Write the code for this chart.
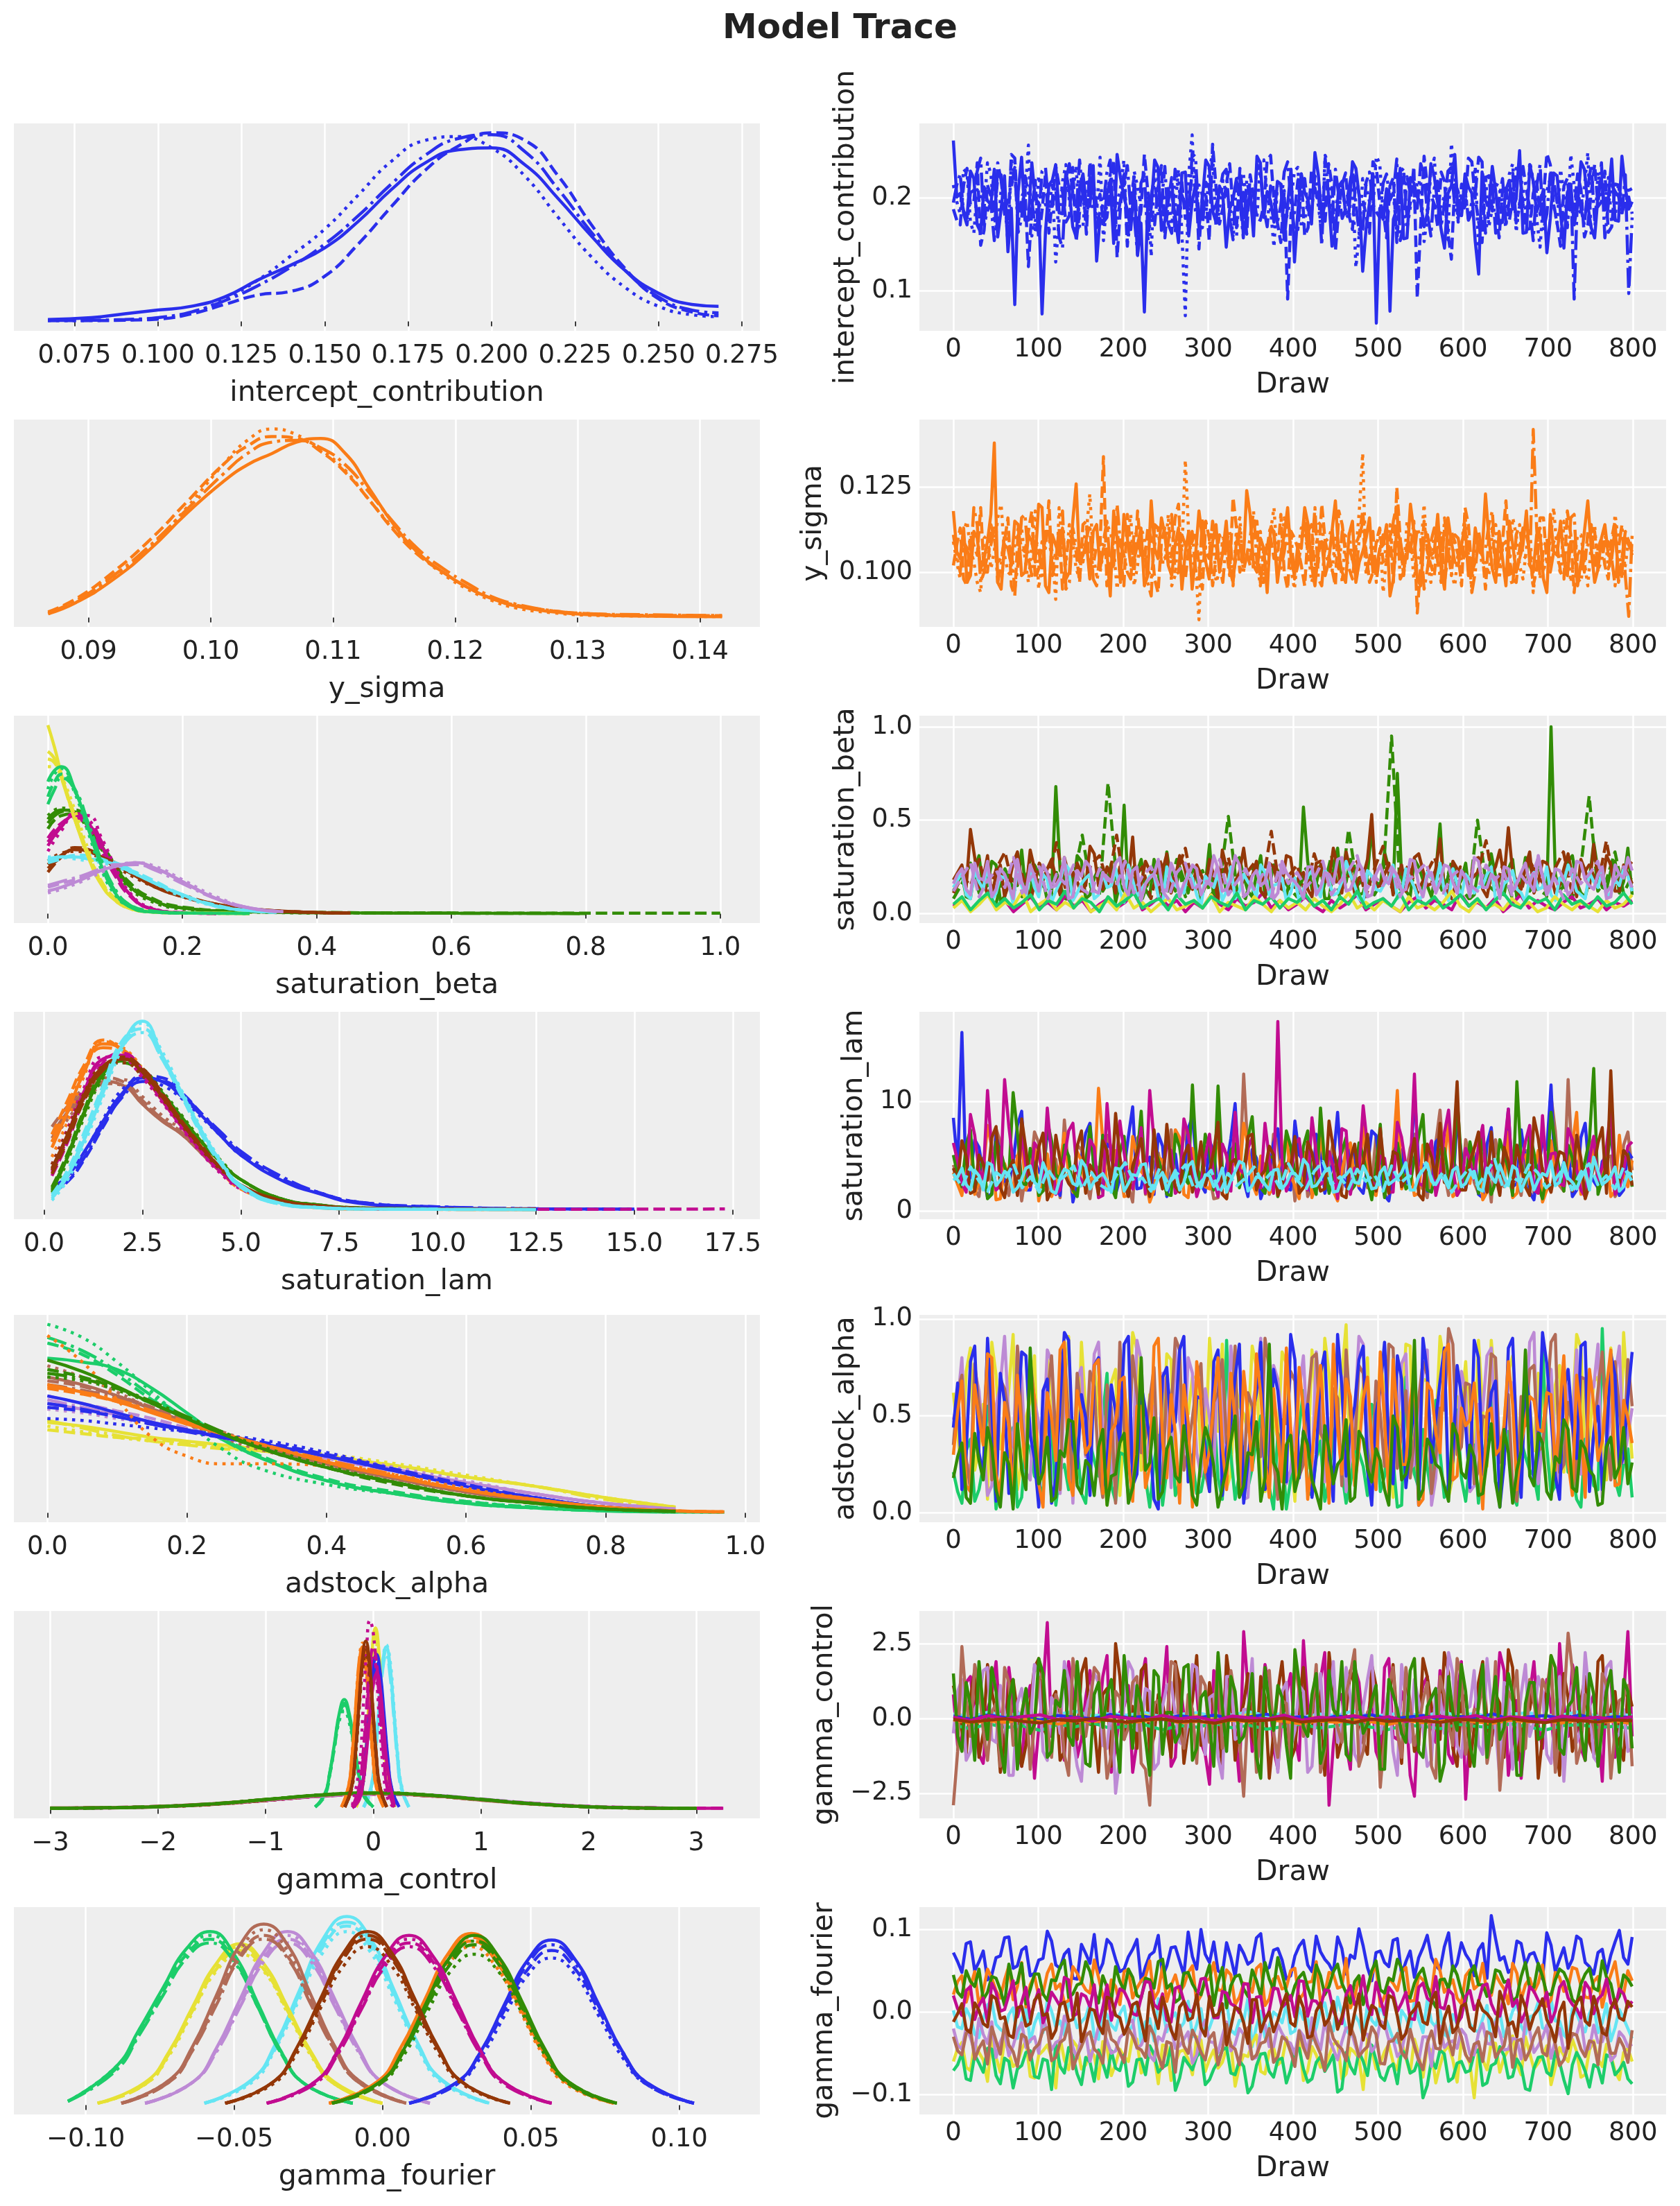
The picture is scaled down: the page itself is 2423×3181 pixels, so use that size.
<!DOCTYPE html>
<html>
<head>
<meta charset="utf-8">
<title>Model Trace</title>
<script src="https://cdn.jsdelivr.net/npm/echarts@6/dist/echarts.min.js"></script>
<style>
html,body{margin:0;padding:0;background:#fff}
#chart{width:2423px;height:3181px}
</style>
</head>
<body>
<div id="chart"></div>
<script>
/* Model Trace — ArviZ-style trace plot: KDE per chain (left) and draws per chain (right) */

/* ---------- tick labels ---------- */
const DRAW_TICKS = [0,100,200,300,400,500,600,700,800];
const IC_TICKS = [0.075,0.1,0.125,0.15,0.175,0.2,0.225,0.25,0.275];
const YS_TICKS = [0.09,0.1,0.11,0.12,0.13,0.14];
const SB_TICKS = [0,0.2,0.4,0.6,0.8,1.0];
const SL_TICKS = [0,2.5,5,7.5,10,12.5,15,17.5];
const AA_TICKS = [0,0.2,0.4,0.6,0.8,1.0];
const GC_TICKS = [-3,-2,-1,0,1,2,3];
const GF_TICKS = [-0.1,-0.05,0,0.05,0.1];
const IC_YT = [0.1,0.2], YS_YT = [0.1,0.125], SB_YT = [0,0.5,1], SL_YT = [0,10];
const AA_YT = [0,0.5,1], GC_YT = [-2.5,0,2.5], GF_YT = [-0.1,0,0.1];

/* ---------- KDE curves (density relative to the panel's highest peak), one grid per variable ---------- */
const IC_KX = [[0.067,0.08,0.09,0.1,0.11,0.12,0.13,0.14,0.15,0.16,0.17,0.18,0.19,0.2,0.21,0.22,0.23,0.24,0.25,0.26,0.268]];
const IC_KY = [[
  [0.01,0.02,0.04,0.06,0.08,0.13,0.22,0.30,0.39,0.53,0.70,0.84,0.91,0.92,0.83,0.65,0.45,0.27,0.15,0.09,0.08],
  [0.004,0.004,0.006,0.012,0.04,0.09,0.14,0.16,0.24,0.41,0.61,0.80,0.93,1.0,0.96,0.77,0.51,0.28,0.12,0.05,0.03],
  [0.004,0.005,0.008,0.015,0.045,0.12,0.22,0.35,0.49,0.67,0.85,0.96,0.98,0.92,0.77,0.55,0.34,0.18,0.08,0.035,0.025],
  [0.005,0.006,0.01,0.02,0.05,0.11,0.19,0.29,0.41,0.56,0.73,0.88,0.97,0.99,0.90,0.70,0.47,0.27,0.13,0.06,0.045]
]];

const YS_KX = [[0.0867,0.089,0.092,0.095,0.098,0.101,0.103,0.105,0.107,0.109,0.111,0.113,0.115,0.117,0.119,0.121,0.123,0.125,0.128,0.131,0.135,0.1418]];
const YS_KY = [[
  [0.02,0.08,0.20,0.36,0.55,0.72,0.81,0.87,0.93,0.95,0.87,0.68,0.49,0.34,0.24,0.16,0.10,0.06,0.03,0.015,0.008,0.004],
  [0.03,0.10,0.24,0.41,0.61,0.81,0.91,0.96,0.95,0.88,0.77,0.62,0.46,0.33,0.24,0.16,0.10,0.065,0.035,0.02,0.012,0.01],
  [0.02,0.09,0.21,0.37,0.58,0.81,0.94,1.0,0.97,0.89,0.78,0.62,0.47,0.34,0.23,0.15,0.09,0.05,0.025,0.012,0.008,0.005],
  [0.025,0.09,0.22,0.38,0.57,0.76,0.87,0.93,0.94,0.90,0.81,0.66,0.50,0.36,0.26,0.18,0.11,0.07,0.035,0.02,0.015,0.01]
]];

// green, magenta, brown, cyan, yellow, light green, lavender
const SB_KX = [
  [0,0.02,0.04,0.06,0.08,0.10,0.12,0.15,0.2,0.3,0.45,0.6,0.8,1.0],
  [0,0.02,0.04,0.06,0.08,0.10,0.12,0.15,0.2,0.25],
  [0,0.02,0.04,0.06,0.08,0.10,0.13,0.16,0.2,0.25,0.3,0.38,0.45],
  [0,0.02,0.04,0.06,0.08,0.10,0.13,0.16,0.2,0.25,0.3,0.34],
  [0,0.01,0.02,0.04,0.06,0.08,0.10,0.12,0.15,0.2,0.3],
  [0,0.01,0.02,0.04,0.06,0.08,0.10,0.12,0.15,0.2,0.3],
  [0,0.02,0.05,0.08,0.10,0.13,0.16,0.2,0.25,0.3,0.35]
];
const SB_KY = [
  [[0.50,0.55,0.54,0.46,0.35,0.24,0.15,0.08,0.03,0.01,0.004,0.002,0.001],
   [0.45,0.52,0.53,0.47,0.37,0.26,0.17,0.09,0.035,0.012,0.005,0.003,0.002,0.002],
   [0.52,0.56,0.53,0.45,0.34,0.23,0.14,0.07,0.025,0.008,0.003,0.002],
   [0.48,0.54,0.55,0.48,0.36,0.25,0.16,0.08,0.03,0.01,0.004,0.002,0.001]],
  [[0.36,0.46,0.52,0.48,0.36,0.22,0.11,0.03,0.005,0.001],
   [0.40,0.48,0.51,0.45,0.33,0.20,0.10,0.03,0.005,0.001],
   [0.33,0.44,0.52,0.52,0.40,0.25,0.12,0.035,0.006,0.001],
   [0.38,0.47,0.53,0.50,0.38,0.23,0.11,0.03,0.005,0.001]],
  [[0.26,0.31,0.34,0.33,0.30,0.26,0.20,0.14,0.09,0.05,0.025,0.008,0.003],
   [0.22,0.30,0.35,0.34,0.30,0.26,0.21,0.15,0.09,0.05,0.025,0.008,0.003],
   [0.28,0.32,0.33,0.32,0.29,0.25,0.19,0.14,0.09,0.05,0.02,0.007],
   [0.24,0.30,0.34,0.33,0.30,0.27,0.21,0.15,0.10,0.05,0.025,0.008,0.003]],
  [[0.29,0.30,0.30,0.29,0.28,0.26,0.21,0.16,0.10,0.04,0.015,0.008],
   [0.27,0.29,0.31,0.31,0.29,0.26,0.22,0.17,0.10,0.045,0.015,0.008],
   [0.30,0.30,0.29,0.28,0.27,0.25,0.21,0.16,0.09,0.04,0.012],
   [0.28,0.30,0.30,0.29,0.28,0.27,0.22,0.16,0.10,0.04,0.015,0.008]],
  [[1.0,0.88,0.74,0.50,0.30,0.15,0.07,0.03,0.01,0.004,0.001],
   [0.82,0.80,0.72,0.52,0.32,0.17,0.08,0.035,0.012,0.004,0.001],
   [0.78,0.78,0.73,0.55,0.34,0.16,0.07,0.03,0.01,0.003],
   [0.86,0.82,0.72,0.50,0.31,0.16,0.08,0.03,0.01,0.004,0.001]],
  [[0.70,0.76,0.78,0.66,0.45,0.25,0.11,0.04,0.01,0.003,0.001],
   [0.62,0.70,0.74,0.65,0.46,0.27,0.12,0.05,0.015,0.003],
   [0.66,0.74,0.77,0.64,0.43,0.23,0.10,0.04,0.01,0.003,0.001],
   [0.58,0.66,0.72,0.66,0.48,0.28,0.13,0.05,0.015,0.004]],
  [[0.12,0.14,0.18,0.23,0.25,0.27,0.24,0.17,0.08,0.03,0.01],
   [0.14,0.16,0.19,0.23,0.25,0.26,0.24,0.17,0.08,0.03,0.01],
   [0.11,0.13,0.17,0.22,0.25,0.27,0.25,0.18,0.09,0.03,0.01],
   [0.15,0.17,0.20,0.24,0.26,0.26,0.23,0.16,0.08,0.03]]
];

// light brown, blue, orange, green, magenta, brown, cyan
const SL_GRID = [0.2,0.6,1.0,1.5,2.0,2.5,3.0,3.5,4.0,4.5,5.0,6.0,7.0,8.0,10,12.5,15,17.3];
const SL_KX = [SL_GRID,SL_GRID,SL_GRID,SL_GRID,SL_GRID,SL_GRID,SL_GRID];
const SL_KY = [
  [[0.40,0.52,0.62,0.68,0.66,0.56,0.47,0.40,0.30,0.20,0.12,0.04,0.015,0.006,0.003,0.002],
   [0.44,0.55,0.64,0.70,0.68,0.58,0.48,0.40,0.30,0.20,0.12,0.04,0.015,0.006,0.003],
   [0.36,0.48,0.58,0.66,0.69,0.60,0.50,0.42,0.31,0.21,0.12,0.04,0.015,0.006,0.003,0.002],
   [0.38,0.50,0.60,0.67,0.66,0.57,0.48,0.41,0.30,0.20,0.12,0.04,0.015,0.006,0.003,0.002]],
  [[0.12,0.18,0.30,0.47,0.62,0.70,0.68,0.60,0.50,0.39,0.29,0.16,0.085,0.035,0.012,0.004,0.003],
   [0.09,0.15,0.26,0.44,0.61,0.71,0.70,0.62,0.51,0.40,0.30,0.17,0.09,0.04,0.015,0.005],
   [0.11,0.17,0.29,0.48,0.64,0.69,0.66,0.59,0.49,0.39,0.29,0.17,0.09,0.04,0.014,0.005,0.003],
   [0.10,0.16,0.27,0.45,0.60,0.68,0.68,0.61,0.51,0.41,0.31,0.18,0.09,0.04,0.015,0.005]],
  [[0.33,0.52,0.72,0.88,0.85,0.74,0.60,0.46,0.33,0.21,0.12,0.04,0.012,0.005,0.002,0.001],
   [0.40,0.58,0.76,0.90,0.84,0.72,0.58,0.44,0.31,0.20,0.11,0.04,0.01,0.004,0.002],
   [0.28,0.47,0.70,0.89,0.86,0.75,0.61,0.47,0.34,0.22,0.12,0.04,0.012,0.005,0.002],
   [0.36,0.55,0.74,0.86,0.83,0.73,0.60,0.45,0.32,0.21,0.12,0.04,0.012,0.005,0.002,0.001]],
  [[0.10,0.28,0.50,0.72,0.80,0.74,0.62,0.49,0.36,0.25,0.16,0.06,0.025,0.01,0.004,0.002],
   [0.12,0.30,0.52,0.73,0.78,0.72,0.61,0.48,0.36,0.25,0.16,0.06,0.025,0.01,0.004],
   [0.09,0.26,0.48,0.70,0.81,0.75,0.63,0.50,0.37,0.26,0.16,0.06,0.025,0.01,0.004,0.002],
   [0.11,0.29,0.51,0.71,0.79,0.73,0.62,0.49,0.36,0.25,0.16,0.06,0.025,0.01,0.004,0.002]],
  [[0.21,0.40,0.62,0.80,0.82,0.72,0.58,0.44,0.31,0.20,0.12,0.04,0.015,0.006,0.003,0.002],
   [0.18,0.36,0.58,0.78,0.83,0.74,0.60,0.45,0.32,0.21,0.12,0.04,0.015,0.006,0.003,0.002,0.003,0.004],
   [0.24,0.43,0.64,0.81,0.80,0.70,0.57,0.43,0.30,0.19,0.11,0.04,0.015,0.006,0.003,0.002],
   [0.20,0.38,0.60,0.79,0.81,0.73,0.59,0.45,0.31,0.20,0.12,0.04,0.015,0.006,0.004,0.003]],
  [[0.22,0.40,0.60,0.76,0.80,0.73,0.60,0.46,0.33,0.22,0.13,0.05,0.02,0.008,0.003,0.002],
   [0.19,0.37,0.57,0.75,0.81,0.75,0.62,0.47,0.34,0.22,0.13,0.05,0.02,0.008,0.003,0.002],
   [0.24,0.42,0.61,0.76,0.78,0.71,0.59,0.45,0.32,0.21,0.13,0.05,0.02,0.008,0.003],
   [0.21,0.39,0.59,0.74,0.80,0.74,0.61,0.47,0.33,0.22,0.13,0.05,0.02,0.008,0.004,0.002]],
  [[0.06,0.18,0.36,0.62,0.88,1.0,0.82,0.62,0.42,0.25,0.13,0.035,0.012,0.005,0.002,0.001],
   [0.08,0.21,0.40,0.66,0.90,0.96,0.80,0.60,0.40,0.24,0.12,0.03,0.01,0.004,0.002],
   [0.05,0.16,0.34,0.60,0.86,0.99,0.84,0.63,0.43,0.26,0.13,0.035,0.012,0.005,0.002],
   [0.07,0.19,0.38,0.64,0.87,0.94,0.80,0.61,0.41,0.25,0.12,0.03,0.01,0.004,0.002,0.001]]
];

// yellow, light green, lavender, light brown, blue, orange, green
const AA_GRID = [0,0.05,0.1,0.15,0.2,0.25,0.3,0.4,0.5,0.6,0.7,0.8,0.9,0.97];
const AA_KX = [AA_GRID,AA_GRID,AA_GRID,AA_GRID,AA_GRID,AA_GRID,AA_GRID];
const AA_KY = [
  [[0.48,0.46,0.43,0.40,0.38,0.36,0.34,0.30,0.25,0.19,0.14,0.08,0.03],
   [0.44,0.42,0.40,0.39,0.37,0.35,0.33,0.30,0.25,0.19,0.14,0.08,0.03],
   [0.46,0.43,0.40,0.38,0.36,0.35,0.34,0.31,0.26,0.20,0.14,0.08,0.03],
   [0.49,0.45,0.41,0.38,0.36,0.34,0.33,0.29,0.25,0.19,0.14,0.07,0.03]],
  [[0.82,0.80,0.76,0.66,0.53,0.40,0.30,0.17,0.10,0.05,0.025,0.01,0.004,0.003],
   [0.90,0.84,0.73,0.60,0.50,0.40,0.31,0.18,0.11,0.06,0.03,0.012,0.005],
   [1.0,0.93,0.80,0.64,0.48,0.34,0.24,0.15,0.10,0.06,0.03,0.012,0.005,0.003],
   [0.93,0.86,0.75,0.62,0.50,0.39,0.30,0.17,0.10,0.05,0.025,0.01,0.004]],
  [[0.58,0.55,0.52,0.48,0.44,0.40,0.37,0.30,0.23,0.16,0.10,0.05,0.02],
   [0.62,0.58,0.54,0.50,0.45,0.40,0.36,0.29,0.22,0.16,0.10,0.05,0.02],
   [0.55,0.53,0.50,0.47,0.43,0.40,0.37,0.31,0.24,0.17,0.10,0.05,0.02],
   [0.60,0.56,0.52,0.48,0.44,0.40,0.36,0.29,0.22,0.16,0.10,0.05,0.02]],
  [[0.72,0.68,0.62,0.55,0.48,0.42,0.36,0.26,0.18,0.11,0.06,0.025,0.01],
   [0.70,0.67,0.62,0.56,0.49,0.42,0.36,0.26,0.18,0.11,0.06,0.025,0.01],
   [0.78,0.72,0.64,0.55,0.47,0.40,0.34,0.25,0.17,0.11,0.06,0.025,0.01],
   [0.68,0.65,0.61,0.55,0.49,0.43,0.37,0.27,0.19,0.12,0.06,0.025,0.01]],
  [[0.62,0.58,0.53,0.48,0.44,0.40,0.37,0.30,0.22,0.14,0.08,0.03,0.01],
   [0.56,0.54,0.51,0.47,0.44,0.41,0.38,0.31,0.23,0.15,0.08,0.03,0.01],
   [0.50,0.49,0.47,0.45,0.43,0.41,0.39,0.32,0.23,0.15,0.08,0.03,0.01],
   [0.58,0.55,0.51,0.47,0.43,0.40,0.37,0.30,0.22,0.14,0.08,0.03,0.01]],
  [[0.68,0.64,0.59,0.53,0.47,0.42,0.37,0.27,0.19,0.12,0.07,0.03,0.01,0.005],
   [0.66,0.63,0.59,0.54,0.48,0.42,0.37,0.27,0.19,0.12,0.07,0.03,0.01,0.005],
   [0.94,0.80,0.60,0.40,0.30,0.26,0.26,0.25,0.20,0.13,0.07,0.03,0.01],
   [0.67,0.64,0.60,0.54,0.48,0.42,0.37,0.28,0.20,0.12,0.07,0.03,0.01,0.005]],
  [[0.81,0.75,0.67,0.58,0.50,0.42,0.35,0.24,0.16,0.09,0.05,0.02,0.008],
   [0.76,0.72,0.66,0.58,0.50,0.42,0.35,0.24,0.15,0.09,0.05,0.02,0.008],
   [0.72,0.70,0.65,0.58,0.50,0.43,0.36,0.25,0.16,0.09,0.05,0.02,0.008],
   [0.74,0.71,0.66,0.59,0.51,0.43,0.35,0.24,0.16,0.09,0.05,0.02,0.008]]
];

// magenta*, brown*, cyan, yellow, light green, lavender*, light brown*, blue, orange, green*, magenta, brown  (* = wide)
const GC_WIDE = [-3.0,-2.5,-2.0,-1.5,-1.0,-0.5,0,0.5,1.0,1.5,2.0,2.5,3.0,3.25];
const GC_KX = [
  GC_WIDE, GC_WIDE,
  [-0.09,-0.02,0.015,0.05,0.085,0.12,0.155,0.19,0.225,0.26,0.33],
  [-0.16,-0.1,-0.07,-0.04,-0.01,0.02,0.05,0.08,0.11,0.14,0.2],
  [-0.54,-0.45,-0.405,-0.36,-0.315,-0.27,-0.225,-0.18,-0.135,-0.09,0.0],
  GC_WIDE, GC_WIDE,
  [-0.18,-0.11,-0.075,-0.04,-0.005,0.03,0.065,0.1,0.135,0.17,0.24],
  [-0.295,-0.23,-0.1975,-0.165,-0.1325,-0.10,-0.0675,-0.035,-0.0025,0.03,0.095],
  GC_WIDE,
  [-0.195,-0.13,-0.0975,-0.065,-0.0325,0,0.0325,0.065,0.0975,0.13,0.195],
  [-0.265,-0.2,-0.1675,-0.135,-0.1025,-0.07,-0.0375,-0.005,0.0275,0.06,0.125]
];
const GC_KY = [
  [[0.003,0.006,0.012,0.025,0.045,0.068,0.08,0.072,0.05,0.028,0.013,0.006,0.003,0.003],
   [0.004,0.007,0.013,0.026,0.046,0.066,0.078,0.071,0.051,0.03,0.014,0.007,0.004,0.004],
   [0.003,0.006,0.012,0.024,0.044,0.067,0.081,0.073,0.05,0.027,0.012,0.005,0.003],
   [0.004,0.006,0.013,0.026,0.047,0.069,0.079,0.07,0.049,0.028,0.013,0.006,0.003]],
  [[0.002,0.005,0.011,0.024,0.046,0.07,0.082,0.071,0.048,0.026,0.012,0.005,0.002],
   [0.003,0.006,0.012,0.025,0.047,0.069,0.08,0.07,0.048,0.027,0.012,0.005,0.003],
   [0.002,0.005,0.011,0.023,0.045,0.07,0.083,0.072,0.049,0.026,0.011,0.005,0.002],
   [0.003,0.006,0.012,0.025,0.046,0.068,0.08,0.071,0.049,0.027,0.012,0.005,0.003]],
  [[0.01,0.12,0.28,0.52,0.76,0.86,0.76,0.52,0.28,0.12,0.01],
   [0.01,0.11,0.27,0.51,0.74,0.84,0.74,0.51,0.27,0.11,0.01],
   [0.01,0.10,0.26,0.50,0.75,0.87,0.79,0.55,0.30,0.13,0.01],
   [0.01,0.12,0.28,0.51,0.73,0.82,0.71,0.49,0.26,0.11,0.01]],
  [[0.01,0.13,0.31,0.58,0.85,0.96,0.85,0.58,0.31,0.13,0.01],
   [0.01,0.12,0.29,0.55,0.79,0.90,0.79,0.55,0.29,0.12,0.01],
   [0.01,0.13,0.30,0.55,0.78,0.88,0.77,0.52,0.28,0.11,0.01],
   [0.01,0.12,0.30,0.56,0.82,0.93,0.82,0.57,0.30,0.12,0.01]],
  [[0.01,0.08,0.19,0.35,0.51,0.58,0.51,0.35,0.19,0.08,0.01],
   [0.01,0.07,0.18,0.33,0.49,0.55,0.49,0.33,0.18,0.07,0.01],
   [0.01,0.08,0.18,0.33,0.47,0.52,0.46,0.32,0.17,0.07,0.01],
   [0.01,0.08,0.19,0.34,0.50,0.56,0.49,0.34,0.18,0.08,0.01]],
  [[0.002,0.005,0.012,0.026,0.048,0.07,0.08,0.074,0.052,0.028,0.012,0.005,0.002],
   [0.003,0.006,0.013,0.027,0.047,0.068,0.079,0.073,0.053,0.029,0.013,0.006,0.003],
   [0.002,0.005,0.011,0.025,0.047,0.07,0.081,0.074,0.051,0.027,0.012,0.005,0.002],
   [0.003,0.006,0.012,0.026,0.048,0.069,0.08,0.072,0.051,0.028,0.012,0.005,0.002]],
  [[0.005,0.007,0.013,0.027,0.049,0.072,0.082,0.071,0.047,0.025,0.011,0.005,0.002],
   [0.004,0.007,0.013,0.026,0.048,0.071,0.082,0.072,0.048,0.026,0.011,0.004,0.002],
   [0.004,0.006,0.012,0.026,0.049,0.073,0.083,0.07,0.046,0.025,0.011,0.004,0.002],
   [0.005,0.007,0.014,0.028,0.05,0.071,0.08,0.07,0.047,0.025,0.011,0.005,0.002]],
  [[0.01,0.11,0.27,0.50,0.72,0.82,0.72,0.50,0.27,0.11,0.01],
   [0.01,0.10,0.25,0.47,0.69,0.78,0.69,0.47,0.25,0.10,0.01],
   [0.01,0.11,0.26,0.49,0.71,0.80,0.70,0.48,0.26,0.11,0.01],
   [0.01,0.10,0.25,0.46,0.67,0.76,0.67,0.46,0.25,0.10,0.01]],
  [[0.01,0.12,0.28,0.52,0.76,0.86,0.76,0.52,0.28,0.12,0.01],
   [0.01,0.11,0.27,0.50,0.73,0.83,0.73,0.50,0.27,0.11,0.01],
   [0.01,0.11,0.26,0.49,0.71,0.80,0.71,0.49,0.26,0.11,0.01],
   [0.01,0.12,0.29,0.53,0.78,0.88,0.78,0.53,0.29,0.12,0.01]],
  [[0.003,0.006,0.012,0.026,0.05,0.074,0.085,0.074,0.05,0.026,0.011,0.005,0.002],
   [0.003,0.006,0.013,0.027,0.05,0.073,0.084,0.073,0.05,0.027,0.012,0.005,0.002],
   [0.002,0.005,0.012,0.025,0.049,0.074,0.086,0.075,0.05,0.026,0.011,0.004,0.002],
   [0.003,0.006,0.012,0.026,0.05,0.073,0.085,0.074,0.051,0.027,0.011,0.005,0.002]],
  [[0.005,0.05,0.13,0.29,0.50,0.66,0.72,0.63,0.43,0.22,0.02],
   [0.01,0.12,0.28,0.52,0.76,0.86,0.76,0.52,0.28,0.12,0.01],
   [0.02,0.22,0.50,0.82,1.0,0.93,0.68,0.40,0.18,0.06,0.005],
   [0.01,0.10,0.25,0.47,0.70,0.80,0.72,0.50,0.27,0.11,0.01]],
  [[0.01,0.12,0.29,0.54,0.79,0.89,0.79,0.54,0.29,0.12,0.01],
   [0.01,0.12,0.28,0.52,0.76,0.86,0.76,0.52,0.28,0.12,0.01],
   [0.01,0.11,0.27,0.50,0.72,0.82,0.72,0.50,0.27,0.11,0.01],
   [0.01,0.12,0.28,0.53,0.77,0.87,0.77,0.53,0.28,0.12,0.01]]
];

// cyan, yellow, light green, lavender, light brown, blue, orange, green, magenta, brown
const GF_KX = [
  [-0.06,-0.044,-0.036,-0.028,-0.02,-0.012,-0.004,0.004,0.012,0.02,0.036],
  [-0.096,-0.08,-0.072,-0.064,-0.056,-0.048,-0.04,-0.032,-0.024,-0.016,0.0],
  [-0.106,-0.09,-0.082,-0.074,-0.066,-0.058,-0.05,-0.042,-0.034,-0.026,-0.01],
  [-0.08,-0.064,-0.056,-0.048,-0.04,-0.032,-0.024,-0.016,-0.008,0.0,0.016],
  [-0.088,-0.072,-0.064,-0.056,-0.048,-0.04,-0.032,-0.024,-0.016,-0.008,0.008],
  [0.009,0.025,0.033,0.041,0.049,0.057,0.065,0.073,0.081,0.089,0.105],
  [-0.018,-0.002,0.006,0.014,0.022,0.03,0.038,0.046,0.054,0.062,0.078],
  [-0.017,-0.001,0.007,0.015,0.023,0.031,0.039,0.047,0.055,0.063,0.079],
  [-0.039,-0.023,-0.015,-0.007,0.001,0.009,0.017,0.025,0.033,0.041,0.057],
  [-0.053,-0.037,-0.029,-0.021,-0.013,-0.005,0.003,0.011,0.019,0.027,0.043]
];
const GF_KY = [
  [[0.01,0.135,0.325,0.607,0.882,1.0,0.882,0.607,0.325,0.135,0.01],
   [0.01,0.13,0.31,0.58,0.84,0.95,0.84,0.58,0.31,0.13,0.01],
   [0.01,0.12,0.30,0.56,0.81,0.92,0.81,0.56,0.30,0.12,0.01],
   [0.01,0.13,0.32,0.59,0.86,0.97,0.86,0.59,0.32,0.13,0.01]],
  [[0.01,0.12,0.28,0.52,0.75,0.855,0.75,0.52,0.28,0.12,0.01],
   [0.01,0.11,0.27,0.50,0.72,0.82,0.72,0.50,0.27,0.11,0.01],
   [0.01,0.11,0.26,0.49,0.71,0.80,0.71,0.49,0.26,0.11,0.01],
   [0.01,0.11,0.27,0.51,0.74,0.84,0.74,0.51,0.27,0.11,0.01]],
  [[0.02,0.20,0.40,0.62,0.83,0.92,0.80,0.54,0.28,0.11,0.01],
   [0.02,0.19,0.38,0.60,0.80,0.88,0.77,0.52,0.27,0.11,0.01],
   [0.02,0.20,0.39,0.61,0.82,0.90,0.79,0.53,0.28,0.11,0.01],
   [0.02,0.18,0.37,0.58,0.78,0.86,0.76,0.52,0.27,0.11,0.01]],
  [[0.01,0.12,0.30,0.56,0.81,0.92,0.81,0.56,0.30,0.12,0.01],
   [0.01,0.12,0.29,0.53,0.78,0.88,0.78,0.53,0.29,0.12,0.01],
   [0.01,0.12,0.29,0.55,0.79,0.90,0.79,0.55,0.29,0.12,0.01],
   [0.01,0.12,0.28,0.52,0.76,0.86,0.76,0.52,0.28,0.12,0.01]],
  [[0.01,0.13,0.31,0.58,0.85,0.96,0.85,0.58,0.31,0.13,0.01],
   [0.01,0.12,0.29,0.55,0.79,0.90,0.79,0.55,0.29,0.12,0.01],
   [0.01,0.13,0.30,0.56,0.82,0.93,0.82,0.56,0.30,0.13,0.01],
   [0.01,0.12,0.29,0.53,0.78,0.88,0.78,0.53,0.29,0.12,0.01]],
  [[0.01,0.12,0.28,0.53,0.77,0.875,0.77,0.53,0.28,0.12,0.01],
   [0.01,0.11,0.27,0.50,0.72,0.82,0.72,0.50,0.27,0.11,0.01],
   [0.01,0.11,0.25,0.47,0.69,0.78,0.69,0.47,0.25,0.11,0.01],
   [0.01,0.12,0.28,0.52,0.75,0.85,0.75,0.52,0.28,0.12,0.01]],
  [[0.01,0.12,0.30,0.55,0.80,0.91,0.80,0.55,0.30,0.12,0.01],
   [0.01,0.12,0.28,0.53,0.77,0.87,0.77,0.53,0.28,0.12,0.01],
   [0.01,0.11,0.27,0.51,0.74,0.84,0.74,0.51,0.27,0.11,0.01],
   [0.01,0.12,0.29,0.54,0.78,0.89,0.78,0.54,0.29,0.12,0.01]],
  [[0.01,0.12,0.29,0.55,0.79,0.90,0.79,0.55,0.29,0.12,0.01],
   [0.01,0.11,0.28,0.52,0.75,0.85,0.75,0.52,0.28,0.11,0.01],
   [0.01,0.11,0.26,0.49,0.71,0.80,0.71,0.49,0.26,0.11,0.01],
   [0.01,0.12,0.28,0.53,0.77,0.87,0.77,0.53,0.28,0.12,0.01]],
  [[0.01,0.12,0.29,0.55,0.79,0.90,0.79,0.55,0.29,0.12,0.01],
   [0.01,0.12,0.28,0.52,0.76,0.86,0.76,0.52,0.28,0.12,0.01],
   [0.01,0.12,0.29,0.53,0.78,0.88,0.78,0.53,0.29,0.12,0.01],
   [0.01,0.11,0.27,0.51,0.74,0.84,0.74,0.51,0.27,0.11,0.01]],
  [[0.01,0.12,0.30,0.56,0.81,0.92,0.81,0.56,0.30,0.12,0.01],
   [0.01,0.12,0.29,0.53,0.78,0.88,0.78,0.53,0.29,0.12,0.01],
   [0.01,0.11,0.27,0.51,0.74,0.84,0.74,0.51,0.27,0.11,0.01],
   [0.01,0.12,0.29,0.55,0.79,0.90,0.79,0.55,0.29,0.12,0.01]]
];

/* ---------- thinned draws per chain: *_TR at evenly spaced draws, *_MID halfway between them ---------- */
const IC_TR = [[
  [0.262,0.205,0.178,0.221,0.163,0.197,0.231,0.188,0.142,0.085,0.244,0.176,0.199,0.075,0.214,0.236,0.183,0.207,0.158,0.226,
   0.191,0.132,0.172,0.219,0.247,0.201,0.166,0.138,0.077,0.189,0.233,0.175,0.204,0.152,0.228,0.196,0.168,0.241,0.186,0.213,
   0.147,0.199,0.222,0.181,0.159,0.238,0.207,0.174,0.215,0.193,0.131,0.226,0.198,0.249,0.179,0.203,0.164,0.218,0.186,0.232,
   0.121,0.195,0.065,0.177,0.078,0.188,0.156,0.222,0.201,0.169,0.237,0.194,0.146,0.213,0.182,0.226,0.205,0.118,0.197,0.234,
   0.172,0.209,0.188,0.251,0.163,0.218,0.196,0.141,0.227,0.184,0.206,0.171,0.239,0.192,0.157,0.221,0.199,0.176,0.245,0.188],
  [0.188,0.171,0.232,0.196,0.149,0.214,0.183,0.225,0.167,0.243,0.201,0.126,0.219,0.186,0.162,0.235,0.207,0.181,0.153,0.216,
   0.239,0.192,0.174,0.208,0.136,0.228,0.198,0.163,0.247,0.185,0.211,0.157,0.222,0.194,0.178,0.231,0.145,0.206,0.258,0.172,
   0.214,0.189,0.232,0.161,0.203,0.176,0.241,0.197,0.152,0.091,0.184,0.226,0.168,0.209,0.193,0.237,0.143,0.215,0.181,0.224,
   0.199,0.162,0.233,0.187,0.213,0.152,0.228,0.195,0.092,0.245,0.203,0.169,0.218,0.134,0.207,0.191,0.239,0.174,0.222,0.186,
   0.157,0.214,0.198,0.231,0.166,0.205,0.182,0.248,0.193,0.148,0.221,0.187,0.209,0.171,0.236,0.196,0.163,0.215,0.184,0.201],
  [0.214,0.183,0.227,0.162,0.201,0.238,0.176,0.209,0.149,0.223,0.191,0.257,0.172,0.204,0.186,0.131,0.218,0.197,0.235,0.168,
   0.209,0.183,0.154,0.226,0.195,0.241,0.173,0.212,0.188,0.137,0.219,0.202,0.166,0.231,0.073,0.268,0.214,0.179,0.247,0.187,
   0.206,0.158,0.224,0.192,0.175,0.239,0.203,0.147,0.217,0.185,0.229,0.168,0.198,0.211,0.162,0.236,0.189,0.214,0.177,0.125,
   0.221,0.196,0.245,0.183,0.207,0.164,0.232,0.191,0.216,0.153,0.228,0.187,0.203,0.259,0.174,0.211,0.196,0.142,0.225,0.189,
   0.213,0.168,0.237,0.195,0.181,0.219,0.147,0.208,0.192,0.231,0.172,0.214,0.186,0.249,0.164,0.203,0.222,0.178,0.196,0.213],
  [0.195,0.226,0.171,0.208,0.243,0.186,0.154,0.219,0.197,0.233,0.178,0.205,0.164,0.229,0.191,0.212,0.146,0.237,0.183,0.201,
   0.222,0.168,0.194,0.241,0.176,0.215,0.188,0.139,0.226,0.203,0.181,0.234,0.162,0.209,0.193,0.248,0.174,0.217,0.186,0.205,
   0.231,0.155,0.198,0.219,0.182,0.227,0.169,0.207,0.192,0.239,0.165,0.213,0.187,0.224,0.149,0.202,0.231,0.178,0.211,0.194,
   0.166,0.228,0.185,0.216,0.198,0.242,0.171,0.204,0.189,0.225,0.159,0.218,0.196,0.233,0.177,0.209,0.185,0.244,0.162,0.214,
   0.199,0.173,0.227,0.191,0.208,0.154,0.236,0.183,0.219,0.197,0.168,0.091,0.188,0.211,0.176,0.238,0.193,0.207,0.182,0.097]
]];
const IC_MID = [[
  [0.201,0.186,0.229,0.171,0.212,0.193,0.158,0.224,0.189,0.207,0.176,0.238,0.195,0.163,0.219,0.184,0.228,0.169,0.211,0.192,
   0.235,0.178,0.204,0.151,0.222,0.187,0.214,0.173,0.196,0.241,0.165,0.208,0.182,0.227,0.159,0.215,0.198,0.234,0.174,0.203,
   0.188,0.221,0.161,0.209,0.245,0.179,0.197,0.218,0.155,0.231,0.186,0.206,0.172,0.225,0.194,0.148,0.213,0.183,0.239,0.201,
   0.167,0.226,0.189,0.210,0.177,0.232,0.157,0.216,0.195,0.184,0.223,0.166,0.205,0.247,0.181,0.212,0.153,0.228,0.191,0.207,
   0.174,0.219,0.199,0.162,0.236,0.185,0.209,0.178,0.224,0.146,0.214,0.193,0.231,0.168,0.203,0.187,0.242,0.175,0.211,0.196],
  [0.176,0.214,0.193,0.238,0.165,0.202,0.221,0.183,0.247,0.172,0.209,0.188,0.156,0.226,0.197,0.213,0.174,0.233,0.185,0.161,
   0.218,0.204,0.179,0.241,0.191,0.148,0.223,0.186,0.207,0.171,0.235,0.196,0.163,0.217,0.182,0.229,0.205,0.154,0.212,0.189,
   0.237,0.168,0.201,0.225,0.178,0.192,0.246,0.173,0.208,0.184,0.219,0.159,0.231,0.197,0.175,0.214,0.188,0.227,0.166,0.203,
   0.181,0.239,0.195,0.157,0.222,0.206,0.179,0.234,0.171,0.211,0.193,0.228,0.162,0.216,0.185,0.243,0.199,0.152,0.224,0.187,
   0.209,0.176,0.232,0.194,0.167,0.218,0.201,0.236,0.173,0.213,0.182,0.226,0.158,0.205,0.191,0.229,0.169,0.214,0.196,0.183],
  [0.196,0.231,0.174,0.209,0.188,0.226,0.165,0.213,0.242,0.182,0.201,0.159,0.224,0.193,0.217,0.177,0.236,0.205,0.168,0.221,
   0.186,0.244,0.198,0.171,0.211,0.153,0.229,0.191,0.207,0.238,0.175,0.214,0.189,0.162,0.225,0.183,0.203,0.232,0.169,0.219,
   0.194,0.157,0.227,0.208,0.179,0.241,0.187,0.215,0.166,0.199,0.233,0.176,0.211,0.192,0.246,0.172,0.206,0.184,0.222,0.161,
   0.213,0.188,0.237,0.174,0.204,0.228,0.167,0.196,0.218,0.181,0.243,0.191,0.155,0.223,0.202,0.177,0.234,0.193,0.169,0.215,
   0.187,0.226,0.163,0.209,0.239,0.178,0.198,0.221,0.172,0.205,0.247,0.184,0.212,0.159,0.228,0.196,0.173,0.217,0.189,0.206],
  [0.214,0.183,0.206,0.229,0.171,0.195,0.238,0.187,0.212,0.163,0.224,0.199,0.177,0.233,0.191,0.158,0.218,0.205,0.241,0.176,
   0.209,0.186,0.227,0.164,0.198,0.235,0.181,0.216,0.152,0.223,0.194,0.172,0.231,0.203,0.185,0.244,0.168,0.211,0.192,0.226,
   0.178,0.219,0.157,0.201,0.236,0.189,0.213,0.174,0.228,0.196,0.166,0.221,0.184,0.209,0.243,0.175,0.202,0.188,0.232,0.161,
   0.217,0.193,0.179,0.226,0.206,0.154,0.223,0.197,0.237,0.183,0.211,0.169,0.229,0.191,0.215,0.176,0.204,0.239,0.186,0.162,
   0.221,0.198,0.173,0.234,0.189,0.212,0.165,0.227,0.195,0.181,0.219,0.208,0.171,0.236,0.193,0.157,0.214,0.202,0.225,0.179]
]];

const YS_TR = [[
  [0.118,0.104,0.097,0.112,0.101,0.109,0.138,0.095,0.107,0.115,0.099,0.111,0.103,0.119,0.094,0.108,0.113,0.100,0.126,0.105,
   0.098,0.114,0.107,0.093,0.110,0.117,0.102,0.108,0.096,0.121,0.104,0.111,0.099,0.113,0.106,0.095,0.118,0.103,0.109,0.100,
   0.115,0.097,0.108,0.124,0.102,0.110,0.094,0.112,0.105,0.119,0.099,0.107,0.114,0.096,0.109,0.103,0.121,0.100,0.111,0.097,
   0.106,0.116,0.101,0.108,0.093,0.113,0.104,0.120,0.098,0.110,0.105,0.117,0.095,0.109,0.102,0.114,0.099,0.107,0.123,0.101,
   0.112,0.096,0.108,0.104,0.118,0.100,0.111,0.094,0.106,0.115,0.099,0.109,0.103,0.121,0.097,0.110,0.105,0.113,0.100,0.108],
  [0.102,0.113,0.096,0.108,0.119,0.100,0.110,0.104,0.116,0.093,0.107,0.112,0.098,0.109,0.121,0.103,0.095,0.111,0.106,0.114,
   0.099,0.108,0.134,0.101,0.112,0.096,0.107,0.118,0.103,0.110,0.094,0.113,0.105,0.120,0.098,0.109,0.102,0.115,0.096,0.111,
   0.107,0.122,0.100,0.106,0.113,0.097,0.109,0.104,0.117,0.095,0.110,0.102,0.112,0.099,0.120,0.105,0.096,0.114,0.101,0.108,
   0.118,0.097,0.109,0.103,0.111,0.125,0.099,0.106,0.088,0.115,0.102,0.110,0.097,0.112,0.105,0.119,0.100,0.108,0.095,0.113,
   0.104,0.121,0.098,0.107,0.111,0.096,0.116,0.103,0.109,0.100,0.118,0.094,0.107,0.112,0.101,0.110,0.098,0.115,0.104,0.109],
  [0.109,0.098,0.115,0.103,0.094,0.111,0.106,0.120,0.100,0.108,0.113,0.097,0.118,0.104,0.110,0.092,0.107,0.114,0.101,0.109,
   0.123,0.099,0.106,0.112,0.095,0.108,0.117,0.102,0.110,0.098,0.114,0.104,0.096,0.111,0.133,0.103,0.086,0.107,0.113,0.100,
   0.109,0.096,0.116,0.105,0.101,0.112,0.098,0.119,0.104,0.108,0.095,0.113,0.107,0.100,0.115,0.103,0.110,0.097,0.112,0.106,
   0.135,0.101,0.108,0.094,0.114,0.106,0.099,0.111,0.103,0.120,0.097,0.108,0.113,0.100,0.106,0.117,0.095,0.110,0.104,0.112,
   0.098,0.109,0.116,0.102,0.107,0.094,0.113,0.105,0.119,0.099,0.108,0.103,0.111,0.096,0.114,0.106,0.101,0.117,0.098,0.110],
  [0.111,0.100,0.107,0.119,0.097,0.105,0.113,0.102,0.109,0.095,0.116,0.104,0.110,0.099,0.112,0.106,0.118,0.097,0.108,0.103,
   0.114,0.096,0.109,0.101,0.120,0.105,0.098,0.111,0.107,0.093,0.113,0.103,0.117,0.100,0.108,0.112,0.097,0.106,0.115,0.102,
   0.109,0.099,0.113,0.105,0.118,0.096,0.107,0.111,0.101,0.114,0.098,0.108,0.104,0.119,0.096,0.110,0.103,0.112,0.107,0.099,
   0.115,0.104,0.097,0.111,0.106,0.120,0.100,0.108,0.113,0.095,0.109,0.103,0.116,0.099,0.110,0.105,0.094,0.112,0.107,0.118,
   0.101,0.109,0.096,0.114,0.104,0.142,0.098,0.110,0.106,0.113,0.100,0.117,0.097,0.108,0.112,0.103,0.109,0.096,0.114,0.087]
]];
const YS_MID = [[
  [0.106,0.113,0.099,0.110,0.104,0.117,0.097,0.108,0.102,0.114,0.100,0.109,0.120,0.096,0.111,0.105,0.098,0.115,0.103,0.109,
   0.112,0.101,0.106,0.118,0.097,0.110,0.104,0.113,0.099,0.107,0.116,0.102,0.108,0.095,0.112,0.105,0.110,0.098,0.114,0.106,
   0.101,0.109,0.103,0.117,0.100,0.107,0.113,0.097,0.111,0.104,0.108,0.119,0.102,0.106,0.099,0.112,0.105,0.097,0.115,0.103,
   0.110,0.100,0.107,0.114,0.098,0.109,0.104,0.112,0.096,0.111,0.106,0.101,0.116,0.103,0.108,0.099,0.113,0.105,0.110,0.097,
   0.104,0.115,0.100,0.108,0.102,0.111,0.098,0.117,0.105,0.103,0.109,0.096,0.112,0.107,0.101,0.114,0.104,0.099,0.110,0.106],
  [0.108,0.098,0.111,0.105,0.100,0.114,0.103,0.109,0.096,0.112,0.106,0.118,0.101,0.107,0.099,0.113,0.104,0.110,0.097,0.115,
   0.102,0.108,0.096,0.111,0.105,0.117,0.100,0.106,0.113,0.098,0.109,0.103,0.116,0.101,0.107,0.112,0.095,0.110,0.104,0.108,
   0.099,0.113,0.106,0.102,0.115,0.097,0.110,0.104,0.100,0.112,0.107,0.096,0.114,0.103,0.109,0.101,0.118,0.105,0.098,0.111,
   0.106,0.100,0.113,0.104,0.097,0.110,0.108,0.115,0.102,0.106,0.099,0.112,0.105,0.109,0.096,0.114,0.103,0.107,0.111,0.100,
   0.109,0.104,0.097,0.113,0.106,0.101,0.116,0.103,0.108,0.098,0.111,0.105,0.100,0.114,0.107,0.102,0.110,0.097,0.112,0.105],
  [0.103,0.112,0.107,0.097,0.110,0.101,0.116,0.105,0.099,0.113,0.104,0.108,0.095,0.111,0.106,0.119,0.102,0.109,0.098,0.112,
   0.105,0.100,0.114,0.107,0.103,0.110,0.096,0.113,0.101,0.108,0.104,0.117,0.099,0.106,0.111,0.102,0.115,0.108,0.097,0.110,
   0.104,0.113,0.100,0.107,0.109,0.098,0.112,0.103,0.116,0.101,0.106,0.110,0.097,0.114,0.105,0.100,0.108,0.111,0.103,0.118,
   0.099,0.107,0.112,0.104,0.101,0.109,0.115,0.098,0.106,0.103,0.113,0.100,0.110,0.096,0.108,0.105,0.112,0.102,0.099,0.114,
   0.107,0.101,0.111,0.098,0.113,0.104,0.100,0.109,0.106,0.115,0.097,0.111,0.103,0.108,0.100,0.112,0.105,0.109,0.102,0.107],
  [0.105,0.109,0.102,0.114,0.100,0.108,0.097,0.111,0.106,0.103,0.117,0.099,0.107,0.112,0.101,0.109,0.095,0.113,0.104,0.110,
   0.098,0.106,0.115,0.102,0.108,0.100,0.112,0.105,0.097,0.114,0.103,0.109,0.099,0.111,0.106,0.101,0.116,0.104,0.108,0.097,
   0.112,0.105,0.100,0.110,0.103,0.107,0.114,0.099,0.106,0.111,0.102,0.117,0.104,0.098,0.109,0.113,0.101,0.107,0.104,0.110,
   0.100,0.112,0.106,0.103,0.115,0.098,0.108,0.104,0.110,0.101,0.113,0.097,0.107,0.111,0.103,0.109,0.100,0.106,0.114,0.102,
   0.108,0.099,0.111,0.105,0.102,0.113,0.107,0.100,0.110,0.104,0.116,0.098,0.106,0.112,0.101,0.109,0.104,0.107,0.099,0.111]
]];

const SB_TR = [
  [[0.12,0.21,0.08,0.31,0.15,0.26,0.09,0.18,0.34,0.11,0.22,0.07,0.68,0.19,0.13,0.28,0.10,0.24,0.16,0.06,
    0.58,0.14,0.29,0.09,0.21,0.33,0.12,0.18,0.25,0.08,0.37,0.16,0.11,0.27,0.20,0.09,0.31,0.14,0.23,0.10,
    0.19,0.57,0.13,0.26,0.08,0.35,0.17,0.22,0.11,0.46,0.15,0.24,0.75,0.12,0.29,0.18,0.09,0.48,0.21,0.14,
    0.27,0.10,0.19,0.32,0.13,0.24,0.08,0.30,0.16,0.21,1.0,0.12,0.28,0.17,0.09,0.38,0.14,0.23,0.11,0.35],
   [0.08,0.16,0.27,0.11,0.20,0.06,0.24,0.13,0.09,0.30,0.17,0.12,0.22,0.07,0.19,0.42,0.14,0.10,0.70,0.18,
    0.11,0.25,0.08,0.21,0.15,0.12,0.29,0.09,0.18,0.23,0.10,0.16,0.52,0.13,0.08,0.26,0.19,0.11,0.21,0.14,
    0.09,0.24,0.17,0.12,0.31,0.08,0.45,0.15,0.20,0.10,0.18,0.95,0.13,0.25,0.09,0.17,0.22,0.11,0.28,0.14,
    0.08,0.50,0.16,0.12,0.23,0.09,0.19,0.27,0.13,0.10,0.21,0.15,0.08,0.24,0.63,0.12,0.18,0.33,0.11,0.20]],
  [[0.04,0.08,0.02,0.06,0.11,0.03,0.07,0.01,0.05,0.09,0.03,0.06,0.02,0.10,0.04,0.07,0.01,0.05,0.08,0.03,
    0.06,0.12,0.02,0.05,0.09,0.04,0.07,0.01,0.06,0.03,0.10,0.05,0.02,0.08,0.04,0.06,0.11,0.03,0.07,0.02,
    0.05,0.09,0.04,0.01,0.07,0.03,0.06,0.10,0.02,0.05,0.08,0.04,0.01,0.06,0.09,0.03,0.07,0.05,0.02,0.11,
    0.04,0.06,0.03,0.08,0.01,0.05,0.10,0.03,0.07,0.04,0.02,0.06,0.09,0.03,0.05,0.08,0.02,0.06,0.04,0.07]],
  [[0.18,0.26,0.45,0.14,0.31,0.21,0.09,0.27,0.17,0.34,0.12,0.24,0.19,0.30,0.08,0.22,0.36,0.15,0.25,0.11,
    0.28,0.41,0.16,0.23,0.10,0.32,0.19,0.26,0.13,0.21,0.29,0.07,0.24,0.17,0.35,0.20,0.12,0.27,0.16,0.31,
    0.14,0.22,0.09,0.28,0.18,0.25,0.33,0.11,0.20,0.53,0.15,0.27,0.19,0.12,0.30,0.23,0.16,0.40,0.10,0.24,
    0.18,0.29,0.13,0.21,0.34,0.46,0.17,0.25,0.11,0.28,0.20,0.15,0.32,0.09,0.23,0.37,0.16,0.26,0.12,0.21],
   [0.11,0.20,0.15,0.29,0.09,0.24,0.33,0.13,0.21,0.07,0.27,0.18,0.38,0.14,0.22,0.10,0.26,0.31,0.16,0.42,
    0.12,0.19,0.25,0.08,0.29,0.15,0.22,0.35,0.11,0.18,0.24,0.13,0.30,0.09,0.21,0.27,0.16,0.44,0.12,0.20,
    0.26,0.10,0.32,0.17,0.23,0.13,0.20,0.28,0.09,0.24,0.36,0.14,0.19,0.26,0.11,0.21,0.30,0.15,0.08,0.25,
    0.17,0.22,0.39,0.12,0.27,0.16,0.10,0.29,0.20,0.14,0.24,0.33,0.11,0.19,0.26,0.15,0.39,0.13,0.22,0.28]],
  [[0.14,0.22,0.08,0.17,0.26,0.11,0.19,0.05,0.15,0.23,0.09,0.18,0.12,0.27,0.07,0.16,0.21,0.10,0.14,0.24,
    0.06,0.18,0.13,0.20,0.09,0.25,0.15,0.11,0.19,0.04,0.17,0.22,0.12,0.08,0.21,0.14,0.26,0.10,0.16,0.07,
    0.19,0.13,0.23,0.09,0.17,0.11,0.28,0.15,0.06,0.20,0.12,0.18,0.08,0.24,0.14,0.10,0.19,0.27,0.07,0.16,
    0.21,0.11,0.15,0.25,0.09,0.18,0.13,0.06,0.22,0.14,0.10,0.19,0.26,0.12,0.08,0.17,0.23,0.11,0.15,0.20]],
  [[0.03,0.07,0.01,0.05,0.10,0.02,0.06,0.04,0.12,0.01,0.05,0.08,0.02,0.06,0.03,0.09,0.01,0.04,0.07,0.02,
    0.11,0.03,0.06,0.01,0.05,0.08,0.02,0.04,0.07,0.03,0.10,0.01,0.06,0.04,0.02,0.09,0.05,0.01,0.07,0.03,
    0.06,0.02,0.08,0.04,0.01,0.05,0.11,0.03,0.06,0.02,0.07,0.04,0.01,0.09,0.03,0.05,0.02,0.06,0.12,0.04,
    0.01,0.07,0.03,0.05,0.02,0.08,0.04,0.06,0.01,0.03,0.09,0.05,0.02,0.06,0.04,0.01,0.07,0.03,0.05,0.10]],
  [[0.05,0.09,0.02,0.07,0.11,0.04,0.08,0.03,0.06,0.10,0.02,0.07,0.05,0.12,0.03,0.08,0.06,0.01,0.09,0.04,
    0.07,0.11,0.03,0.06,0.08,0.02,0.10,0.05,0.07,0.03,0.09,0.06,0.04,0.11,0.02,0.07,0.05,0.09,0.03,0.08,
    0.06,0.10,0.04,0.07,0.02,0.09,0.05,0.12,0.03,0.06,0.08,0.04,0.11,0.02,0.07,0.05,0.09,0.03,0.06,0.10,
    0.04,0.08,0.02,0.07,0.11,0.05,0.03,0.09,0.06,0.08,0.02,0.10,0.05,0.07,0.03,0.09,0.04,0.06,0.11,0.05]],
  [[0.16,0.24,0.10,0.19,0.28,0.13,0.21,0.08,0.17,0.26,0.12,0.22,0.15,0.30,0.09,0.20,0.25,0.11,0.18,0.27,
    0.14,0.23,0.07,0.19,0.29,0.12,0.21,0.16,0.26,0.10,0.18,0.24,0.13,0.31,0.09,0.20,0.15,0.27,0.11,0.22,
    0.17,0.08,0.25,0.14,0.21,0.29,0.12,0.19,0.23,0.10,0.26,0.16,0.20,0.13,0.28,0.09,0.22,0.17,0.25,0.11,
    0.19,0.30,0.14,0.21,0.08,0.24,0.16,0.27,0.12,0.20,0.15,0.23,0.10,0.28,0.18,0.13,0.25,0.09,0.21,0.30],
   [0.12,0.20,0.27,0.09,0.18,0.23,0.14,0.30,0.11,0.19,0.25,0.08,0.21,0.16,0.26,0.13,0.10,0.24,0.19,0.15,
    0.28,0.11,0.20,0.25,0.14,0.08,0.22,0.27,0.12,0.19,0.15,0.29,0.10,0.17,0.24,0.13,0.21,0.09,0.26,0.16,
    0.22,0.14,0.19,0.28,0.10,0.17,0.23,0.31,0.12,0.20,0.15,0.25,0.09,0.18,0.22,0.27,0.13,0.11,0.20,0.24,
    0.16,0.12,0.26,0.18,0.23,0.10,0.21,0.15,0.29,0.13,0.19,0.08,0.24,0.16,0.21,0.28,0.11,0.18,0.25,0.14]]
];
const SB_MID = [
  [[0.17,0.09,0.24,0.13,0.28,0.07,0.20,0.15,0.11,0.26,0.18,0.10,0.23,0.14,0.31,0.08,0.19,0.12,0.27,0.16,
    0.10,0.22,0.13,0.29,0.09,0.18,0.25,0.11,0.20,0.15,0.07,0.24,0.17,0.30,0.12,0.21,0.09,0.26,0.14,0.19,
    0.11,0.28,0.16,0.08,0.23,0.13,0.29,0.10,0.21,0.17,0.33,0.12,0.19,0.09,0.25,0.15,0.22,0.11,0.27,0.18,
    0.08,0.24,0.14,0.20,0.10,0.29,0.16,0.12,0.26,0.09,0.21,0.15,0.31,0.11,0.18,0.23,0.13,0.28,0.17,0.10]],
  [],
  [[0.22,0.14,0.30,0.19,0.09,0.26,0.16,0.33,0.12,0.24,0.18,0.29,0.10,0.21,0.27,0.15,0.32,0.13,0.20,0.25,
    0.17,0.08,0.28,0.19,0.23,0.11,0.31,0.16,0.26,0.14,0.20,0.34,0.12,0.22,0.18,0.28,0.09,0.25,0.15,0.30,
    0.20,0.13,0.27,0.17,0.35,0.11,0.23,0.19,0.29,0.14,0.21,0.10,0.26,0.18,0.32,0.15,0.24,0.12,0.28,0.20,
    0.16,0.30,0.09,0.25,0.19,0.22,0.13,0.33,0.17,0.27,0.11,0.24,0.20,0.29,0.14,0.18,0.31,0.12,0.26,0.16]],
  [[0.18,0.10,0.23,0.13,0.07,0.20,0.16,0.25,0.09,0.14,0.21,0.06,0.17,0.24,0.11,0.19,0.08,0.22,0.15,0.12,
    0.26,0.09,0.16,0.21,0.05,0.18,0.13,0.23,0.10,0.20,0.14,0.07,0.25,0.12,0.17,0.09,0.22,0.15,0.19,0.11,
    0.06,0.20,0.14,0.24,0.10,0.17,0.21,0.08,0.23,0.13,0.16,0.26,0.11,0.19,0.07,0.22,0.15,0.12,0.24,0.09,
    0.18,0.14,0.21,0.08,0.16,0.23,0.11,0.19,0.13,0.25,0.07,0.17,0.20,0.10,0.22,0.14,0.09,0.18,0.24,0.12]],
  [],
  [],
  [[0.21,0.13,0.27,0.18,0.09,0.24,0.15,0.29,0.11,0.20,0.26,0.14,0.19,0.08,0.23,0.28,0.12,0.22,0.17,0.30,
    0.10,0.25,0.16,0.21,0.13,0.27,0.09,0.20,0.24,0.15,0.31,0.12,0.18,0.26,0.11,0.23,0.17,0.08,0.28,0.19,
    0.14,0.25,0.10,0.22,0.16,0.30,0.13,0.27,0.09,0.21,0.18,0.24,0.12,0.29,0.15,0.20,0.11,0.26,0.17,0.23,
    0.09,0.28,0.14,0.19,0.25,0.12,0.22,0.16,0.31,0.10,0.24,0.18,0.13,0.27,0.15,0.21,0.08,0.26,0.19,0.23]]
];

const SL_TR = [
  [[4.2,2.1,6.8,1.3,3.9,7.5,2.6,5.1,0.9,3.4,6.2,1.8,4.7,8.3,2.2,5.6,1.1,3.8,6.9,2.7,
    4.4,0.8,7.1,3.1,5.3,1.6,4.0,8.0,2.4,6.1,3.3,1.2,5.0,7.4,12.5,2.9,4.8,1.5,6.3,3.6,
    0.9,5.4,2.2,7.8,4.1,1.7,6.0,3.0,8.8,2.5,4.6,1.0,5.8,3.4,7.0,2.0,4.3,9.2,1.4,3.7,
    6.5,2.6,5.2,0.8,4.0,7.7,2.9,5.5,1.6,3.9,10.5,2.3,12.0,4.5,1.2,6.6,3.2,5.0,2.1,7.2]],
  [[8.5,16.3,3.1,5.8,1.2,6.9,2.7,4.4,9.1,1.9,3.6,7.2,2.3,5.5,0.8,4.8,8.0,2.9,6.1,1.5,
    3.8,9.5,2.1,4.9,7.0,1.3,5.2,3.0,8.6,2.4,6.4,1.7,4.1,9.8,2.8,5.6,1.1,3.5,7.5,2.0,
    8.2,4.6,1.4,6.0,3.2,9.0,2.2,5.0,1.6,7.3,3.7,0.9,5.9,2.6,11.0,4.2,1.8,6.7,3.3,8.4,
    2.0,5.3,1.2,7.6,3.9,9.3,2.5,4.7,1.0,6.2,11.5,3.1,5.8,1.9,8.0,2.7,4.5,7.1,1.4,5.4]],
  [[3.5,1.4,5.9,2.6,7.8,1.0,4.3,2.0,6.5,3.1,0.9,5.2,2.4,7.1,1.7,4.6,3.0,11.2,2.2,5.5,
    1.3,6.8,3.6,0.8,4.9,2.7,7.4,1.5,5.7,3.3,2.0,6.2,1.1,4.4,8.0,2.5,5.0,1.6,3.8,7.0,
    2.3,4.8,1.2,6.6,3.4,0.9,5.4,2.8,7.6,1.8,4.1,2.6,11.0,3.2,1.4,6.0,2.1,4.7,8.1,1.7,
    3.9,5.8,1.0,4.5,2.9,7.2,1.6,5.1,3.5,0.8,6.4,2.4,4.2,9.0,1.9,5.6,3.0,1.3,6.9,2.2]],
  [[5.1,2.2,7.4,3.6,1.1,6.3,4.0,10.8,2.5,5.7,1.4,8.2,3.3,6.0,1.9,4.5,7.7,2.8,5.2,1.2,
    6.8,3.9,9.1,2.0,4.7,1.5,7.0,3.1,11.5,2.4,5.5,11.4,1.8,6.1,3.7,8.6,2.1,4.9,1.3,7.3,
    3.5,5.9,2.7,9.4,1.6,4.4,6.7,2.3,5.0,1.0,7.9,3.4,6.2,2.0,4.8,8.8,1.7,5.6,3.0,10.2,
    2.6,4.3,7.1,1.5,6.5,3.8,11.8,2.2,5.3,1.1,9.0,3.6,6.0,2.4,4.6,13.0,2.9,7.4,1.8,5.2]],
  [[6.2,2.5,8.8,3.7,11.0,1.9,12.0,4.4,7.1,2.2,5.6,9.4,1.5,4.9,8.0,2.8,6.5,1.2,9.8,3.6,
    5.3,2.0,7.6,11.0,3.1,6.0,1.6,8.4,4.2,2.6,7.0,1.3,5.1,9.0,3.4,6.7,2.1,4.8,17.3,1.8,
    6.1,3.3,8.5,2.4,5.4,1.1,7.3,3.9,9.6,2.7,5.0,1.7,8.1,4.1,12.5,2.3,6.4,3.2,9.2,1.4,
    5.7,2.9,7.8,4.5,1.6,9.3,3.0,6.3,1.9,8.7,5.2,2.5,7.5,3.8,1.3,6.8,4.0,9.5,2.1,5.9]],
  [[3.9,6.4,1.6,5.1,2.8,7.7,1.2,4.6,8.4,2.3,5.8,1.0,6.9,3.4,2.0,7.3,4.2,1.5,5.5,8.9,
    2.6,4.1,6.6,1.3,3.8,7.9,2.2,5.0,1.7,6.3,3.5,8.1,1.1,4.7,2.7,7.0,3.2,5.9,1.4,4.3,
    6.8,2.1,5.3,1.8,8.2,3.7,1.2,6.1,4.4,2.5,7.5,1.6,5.2,3.0,6.6,1.0,4.9,8.0,2.4,11.8,
    1.9,5.7,3.3,7.2,1.4,4.5,6.0,2.2,8.5,3.6,1.7,5.4,2.8,6.9,1.1,4.0,7.6,12.8,2.6,5.0]],
  [[2.8,3.9,1.9,3.2,4.4,2.3,3.6,1.7,2.9,4.1,2.2,3.4,1.6,3.8,2.5,4.6,2.0,3.1,2.7,3.9,
    1.8,3.3,4.2,2.4,3.0,1.9,3.7,2.6,4.5,2.1,3.2,2.8,1.7,3.6,4.3,2.3,3.0,1.9,3.8,2.5,
    3.4,4.7,2.2,2.9,3.9,1.8,3.3,2.6,4.1,2.0,3.5,2.4,3.0,4.4,1.9,3.7,2.7,3.2,2.1,4.0,
    2.5,3.6,1.8,3.1,4.2,2.3,3.8,2.8,1.9,3.4,4.5,2.6,3.0,2.0,3.7,4.9,2.4,3.2,1.8,3.5],
   [3.4,2.2,4.0,2.7,1.8,3.5,2.9,4.3,2.1,3.1,1.7,3.8,2.6,3.2,4.1,2.0,3.6,2.4,1.9,3.3,
    4.4,2.7,3.0,1.8,3.9,2.5,3.3,4.2,2.0,2.8,3.7,1.6,3.4,2.3,3.0,4.0,2.6,3.5,2.1,4.3,
    2.8,1.9,3.6,4.5,2.4,3.1,2.0,3.8,2.7,3.3,1.8,4.1,2.5,3.2,2.9,4.4,2.2,3.6,1.7,2.9,
    3.9,2.3,3.4,4.7,2.0,3.1,2.6,4.2,3.5,2.1,2.8,3.9,1.9,3.5,4.3,2.4,3.2,2.0,4.0,2.7]]
];
const SL_MID = [
  [[3.1,5.4,1.9,4.6,2.4,6.3,1.4,4.9,3.5,7.2,2.0,5.1,1.2,3.7,6.0,2.8,4.3,1.6,5.8,3.2,
    2.2,6.6,1.5,4.2,3.0,7.4,1.8,5.0,2.6,4.5,1.1,6.1,3.6,2.3,5.3,1.7,4.0,7.0,2.5,5.6,
    3.3,1.3,4.8,2.7,6.4,1.9,5.2,3.8,2.1,6.8,1.5,4.4,3.0,5.7,2.4,1.2,6.2,3.5,4.7,2.0,
    5.0,1.6,3.9,6.5,2.2,4.6,1.4,5.4,3.1,2.6,7.3,1.8,4.1,3.4,5.9,2.3,4.9,1.3,6.0,3.7]],
  [[4.0,2.2,6.5,3.4,1.6,5.3,2.8,7.8,1.9,4.7,3.1,6.0,1.4,5.0,2.5,7.1,3.6,1.8,5.7,2.9,
    6.8,2.0,4.3,1.5,5.9,3.3,2.2,7.5,4.1,1.7,5.4,2.6,6.6,3.0,1.3,4.8,2.3,6.2,3.8,1.9,
    5.1,2.7,7.0,1.6,4.5,3.2,5.8,2.1,4.0,6.9,1.4,3.5,5.5,2.4,4.2,1.8,6.3,3.0,2.0,5.2,
    3.7,1.5,6.1,2.8,4.6,2.2,7.4,1.7,3.9,5.6,2.5,4.4,1.3,6.7,3.3,2.1,5.0,3.6,1.9,4.8]],
  [[2.4,4.7,1.5,3.6,5.8,1.1,3.0,4.9,1.9,6.1,2.7,1.3,4.2,3.3,5.4,1.7,2.9,6.4,2.1,4.0,
    1.4,5.0,3.1,1.9,4.6,2.5,6.7,1.2,3.8,2.2,5.3,1.6,4.1,2.8,6.0,1.5,3.5,2.0,4.8,3.2,
    1.1,5.6,2.6,4.3,1.8,3.7,6.2,2.3,4.4,1.4,3.0,5.1,2.0,3.9,1.6,5.7,2.8,4.5,1.3,3.4,
    2.5,6.3,1.7,4.0,3.1,1.2,4.9,2.4,5.5,1.9,3.6,2.2,6.0,1.5,4.2,2.9,5.2,1.8,3.3,4.6]],
  [[3.3,6.0,2.0,4.8,1.5,5.6,3.1,7.2,2.4,4.1,1.8,6.4,2.9,5.0,1.3,4.4,3.6,6.9,2.2,5.3,
    1.7,4.7,2.6,6.1,3.4,1.4,5.8,2.5,4.3,7.0,1.9,3.8,5.5,2.1,6.6,3.0,1.6,4.9,2.7,5.9,
    2.3,7.3,1.5,4.2,3.3,5.4,1.8,6.2,2.8,3.9,1.2,5.1,4.0,2.4,6.8,1.9,3.5,5.7,2.1,4.6,
    6.3,1.6,3.7,2.6,5.2,1.4,4.5,7.1,2.3,3.2,5.9,1.8,4.8,2.9,6.5,1.5,4.1,3.4,5.5,2.2]],
  [[4.5,1.7,6.9,3.0,5.4,2.3,7.7,1.5,4.1,6.2,2.6,5.0,1.9,7.3,3.5,2.1,5.8,1.4,4.7,8.2,
    2.8,4.3,1.6,6.4,3.2,5.5,2.0,7.0,1.3,4.9,2.9,6.1,1.8,3.8,5.7,2.4,8.0,1.6,4.4,3.1,
    6.6,1.9,5.2,2.7,4.0,7.5,1.5,3.6,5.9,2.2,4.8,1.7,6.7,3.3,2.5,5.1,1.4,7.1,3.9,2.1,
    4.6,6.0,1.8,3.4,5.6,2.6,4.2,7.8,1.6,3.0,5.3,2.3,6.5,1.9,4.7,2.8,5.8,1.5,3.7,6.3]],
  [[2.7,5.0,1.8,4.3,6.7,2.1,3.8,1.4,5.6,3.1,7.1,1.9,4.6,2.5,5.9,1.6,3.5,6.4,2.2,4.9,
    1.3,5.3,3.0,7.4,2.0,4.1,1.7,6.0,3.4,2.3,5.5,1.5,4.4,2.8,6.8,1.9,3.7,5.1,2.4,4.0,
    1.6,6.3,3.2,2.0,5.7,1.4,4.7,2.9,7.0,1.8,3.6,5.4,2.2,4.3,1.5,6.1,3.0,2.6,5.0,1.9,
    4.5,7.2,1.7,3.3,5.8,2.1,4.0,1.4,6.6,2.7,3.9,5.2,1.8,4.8,2.4,6.2,1.6,3.5,5.5,2.3]],
  [[3.1,2.4,3.7,1.9,4.2,2.8,3.3,2.1,3.9,2.6,4.4,1.8,3.0,3.6,2.3,4.0,2.7,3.4,1.7,3.8,
    2.5,3.2,4.3,2.0,3.5,2.9,1.9,4.1,2.6,3.3,2.2,3.9,2.8,4.5,1.8,3.1,2.4,3.7,2.0,3.4,
    2.9,4.2,2.3,3.6,1.7,3.0,3.8,2.5,3.3,2.1,4.0,2.7,3.5,1.9,3.2,4.3,2.4,2.9,3.7,2.2,
    3.4,2.0,3.9,2.6,3.1,4.1,1.8,3.5,2.8,3.2,2.3,4.4,2.6,3.0,1.9,3.6,2.7,4.0,2.2,3.3]]
];

const AA_TR = [
  [[0.62,0.18,0.85,0.34,0.07,0.71,0.45,0.92,0.26,0.58,0.11,0.79,0.40,0.66,0.15,0.88,0.31,0.53,0.04,0.74,
    0.47,0.93,0.22,0.61,0.36,0.82,0.09,0.55,0.70,0.28,0.90,0.42,0.13,0.67,0.51,0.86,0.19,0.63,0.38,0.77,
    0.06,0.59,0.84,0.30,0.72,0.48,0.97,0.24,0.65,0.12,0.80,0.44,0.57,0.87,0.20,0.69,0.35,0.91,0.08,0.60,
    0.78,0.27,0.54,0.89,0.16,0.73,0.43,0.83,0.32,0.64,0.10,0.76,0.50,0.92,0.25,0.68,0.39,0.85,0.14,0.58]],
  [[0.21,0.05,0.38,0.12,0.55,0.02,0.29,0.44,0.08,0.33,0.16,0.61,0.04,0.25,0.47,0.10,0.36,0.19,0.72,0.06,
    0.30,0.14,0.52,0.03,0.40,0.22,0.09,0.58,0.27,0.11,0.45,0.18,0.89,0.07,0.34,0.23,0.50,0.13,0.41,0.02,
    0.28,0.63,0.09,0.37,0.17,0.48,0.05,0.32,0.24,0.56,0.11,0.39,0.03,0.70,0.20,0.43,0.08,0.31,0.15,0.53,
    0.06,0.35,0.26,0.60,0.12,0.42,0.04,0.29,0.19,0.88,0.10,0.46,0.21,0.07,0.38,0.14,0.95,0.25,0.09,0.33]],
  [[0.48,0.80,0.22,0.63,0.09,0.55,0.91,0.34,0.70,0.17,0.46,0.84,0.28,0.61,0.05,0.75,0.39,0.88,0.13,0.52,
    0.67,0.24,0.79,0.41,0.10,0.58,0.86,0.31,0.72,0.19,0.49,0.83,0.26,0.64,0.07,0.54,0.90,0.36,0.69,0.15,
    0.44,0.81,0.21,0.60,0.33,0.76,0.11,0.50,0.87,0.29,0.66,0.18,0.45,0.82,0.25,0.71,0.04,0.57,0.89,0.37,
    0.62,0.14,0.53,0.85,0.30,0.68,0.20,0.47,0.93,0.35,0.74,0.12,0.59,0.84,0.27,0.65,0.08,0.51,0.86,0.40]],
  [[0.35,0.71,0.12,0.56,0.83,0.27,0.64,0.09,0.48,0.79,0.20,0.60,0.38,0.85,0.14,0.52,0.73,0.24,0.66,0.05,
    0.43,0.81,0.31,0.58,0.16,0.70,0.90,0.22,0.49,0.77,0.11,0.62,0.36,0.86,0.18,0.55,0.29,0.74,0.07,0.46,
    0.68,0.25,0.80,0.41,0.13,0.59,0.84,0.33,0.72,0.19,0.51,0.87,0.23,0.63,0.39,0.78,0.10,0.54,0.95,0.30,
    0.67,0.15,0.50,0.82,0.26,0.61,0.06,0.45,0.76,0.34,0.88,0.21,0.57,0.13,0.69,0.42,0.83,0.17,0.53,0.79]],
  [[0.44,0.12,0.78,0.31,0.90,0.06,0.57,0.25,0.83,0.40,0.03,0.69,0.18,0.93,0.35,0.61,0.09,0.80,0.27,0.52,
    0.87,0.14,0.66,0.38,0.02,0.75,0.47,0.91,0.21,0.59,0.11,0.84,0.33,0.70,0.05,0.49,0.88,0.24,0.63,0.16,
    0.79,0.42,0.08,0.72,0.29,0.92,0.19,0.55,0.86,0.04,0.64,0.37,0.81,0.13,0.58,0.90,0.26,0.68,0.10,0.76,
    0.45,0.89,0.20,0.62,0.03,0.85,0.34,0.71,0.15,0.93,0.50,0.07,0.74,0.28,0.88,0.41,0.12,0.82,0.23,0.60]],
  [[0.30,0.68,0.11,0.49,0.82,0.20,0.57,0.04,0.43,0.74,0.15,0.62,0.27,0.88,0.09,0.51,0.35,0.79,0.13,0.46,
    0.70,0.06,0.55,0.24,0.90,0.18,0.41,0.66,0.03,0.58,0.32,0.80,0.12,0.47,0.73,0.22,0.61,0.08,0.39,0.85,
    0.17,0.53,0.28,0.76,0.05,0.44,0.69,0.14,0.59,0.36,0.83,0.10,0.50,0.25,0.72,0.07,0.63,0.31,0.87,0.19,
    0.45,0.67,0.02,0.54,0.33,0.78,0.12,0.48,0.58,0.42,0.61,0.52,0.26,0.71,0.08,0.56,0.37,0.84,0.15,0.49]],
  [[0.18,0.36,0.05,0.27,0.44,0.12,0.31,0.02,0.22,0.85,0.15,0.39,0.08,0.29,0.47,0.10,0.24,0.34,0.04,0.20,
    0.41,0.13,0.80,0.26,0.07,0.33,0.19,0.45,0.09,0.28,0.37,0.03,0.23,0.50,0.14,0.30,0.06,0.87,0.21,0.35,
    0.11,0.42,0.17,0.02,0.32,0.25,0.48,0.08,0.38,0.16,0.27,0.04,0.44,0.20,0.89,0.12,0.34,0.23,0.06,0.40,
    0.18,0.29,0.10,0.46,0.03,0.31,0.22,0.84,0.14,0.36,0.07,0.26,0.43,0.11,0.33,0.19,0.05,0.39,0.24,0.15]]
];
const AA_MID = [
  [[0.41,0.73,0.22,0.56,0.88,0.33,0.64,0.12,0.49,0.81,0.27,0.60,0.44,0.91,0.18,0.53,0.76,0.30,0.67,0.09,
    0.46,0.84,0.25,0.58,0.37,0.79,0.14,0.51,0.70,0.29,0.62,0.87,0.20,0.55,0.42,0.75,0.11,0.48,0.83,0.34,
    0.65,0.23,0.57,0.90,0.39,0.71,0.16,0.52,0.80,0.31,0.61,0.08,0.45,0.86,0.27,0.68,0.43,0.77,0.19,0.54,
    0.36,0.89,0.24,0.63,0.47,0.81,0.13,0.56,0.72,0.32,0.66,0.21,0.50,0.85,0.38,0.70,0.17,0.59,0.93,0.28]],
  [[0.11,0.32,0.06,0.24,0.41,0.15,0.29,0.03,0.37,0.19,0.08,0.46,0.22,0.12,0.34,0.05,0.27,0.50,0.14,0.31,
    0.09,0.39,0.18,0.26,0.04,0.43,0.16,0.33,0.10,0.23,0.54,0.07,0.30,0.20,0.13,0.38,0.25,0.02,0.35,0.17,
    0.44,0.11,0.28,0.06,0.40,0.21,0.15,0.31,0.09,0.48,0.19,0.27,0.04,0.36,0.13,0.24,0.58,0.08,0.32,0.18,
    0.26,0.05,0.42,0.16,0.30,0.10,0.37,0.22,0.07,0.34,0.14,0.45,0.20,0.03,0.29,0.12,0.39,0.17,0.25,0.08]],
  [[0.57,0.26,0.74,0.38,0.14,0.66,0.47,0.85,0.21,0.59,0.33,0.78,0.10,0.52,0.69,0.29,0.82,0.43,0.17,0.61,
    0.36,0.89,0.24,0.55,0.72,0.13,0.48,0.80,0.31,0.64,0.19,0.57,0.86,0.40,0.08,0.68,0.27,0.76,0.45,0.22,
    0.63,0.35,0.83,0.16,0.53,0.70,0.28,0.91,0.42,0.12,0.60,0.37,0.77,0.23,0.50,0.84,0.18,0.66,0.32,0.73,
    0.11,0.56,0.81,0.39,0.25,0.67,0.44,0.88,0.15,0.58,0.30,0.75,0.46,0.20,0.62,0.87,0.34,0.71,0.26,0.54]],
  [[0.63,0.28,0.77,0.41,0.17,0.69,0.50,0.86,0.23,0.58,0.36,0.81,0.12,0.47,0.72,0.30,0.65,0.08,0.54,0.88,
    0.26,0.61,0.39,0.75,0.15,0.52,0.84,0.33,0.67,0.21,0.57,0.79,0.44,0.10,0.62,0.35,0.90,0.27,0.48,0.73,
    0.19,0.56,0.82,0.37,0.64,0.14,0.51,0.76,0.31,0.68,0.24,0.85,0.42,0.18,0.59,0.71,0.29,0.53,0.87,0.34,
    0.66,0.22,0.49,0.80,0.38,0.13,0.60,0.74,0.32,0.57,0.92,0.25,0.45,0.70,0.16,0.63,0.40,0.78,0.28,0.55]],
  [[0.67,0.31,0.86,0.19,0.54,0.72,0.10,0.45,0.81,0.28,0.63,0.05,0.58,0.89,0.23,0.49,0.76,0.14,0.66,0.37,
    0.91,0.20,0.53,0.07,0.70,0.42,0.84,0.16,0.60,0.33,0.78,0.09,0.47,0.87,0.26,0.62,0.12,0.74,0.39,0.92,
    0.18,0.56,0.30,0.83,0.06,0.65,0.44,0.79,0.22,0.51,0.88,0.15,0.69,0.35,0.04,0.73,0.48,0.85,0.27,0.61,
    0.13,0.80,0.40,0.68,0.25,0.90,0.08,0.57,0.32,0.77,0.19,0.64,0.46,0.86,0.11,0.55,0.36,0.71,0.29,0.83]],
  [[0.52,0.14,0.66,0.35,0.80,0.08,0.45,0.71,0.23,0.59,0.03,0.49,0.84,0.18,0.63,0.31,0.76,0.10,0.42,0.68,
    0.26,0.55,0.13,0.86,0.37,0.61,0.05,0.47,0.78,0.21,0.58,0.34,0.72,0.11,0.50,0.82,0.29,0.64,0.16,0.44,
    0.75,0.07,0.53,0.38,0.87,0.20,0.60,0.33,0.70,0.12,0.46,0.79,0.25,0.57,0.04,0.67,0.41,0.83,0.17,0.54,
    0.48,0.39,0.52,0.30,0.45,0.56,0.35,0.60,0.43,0.62,0.22,0.81,0.09,0.48,0.74,0.27,0.65,0.14,0.58,0.36]],
  [[0.29,0.08,0.41,0.17,0.34,0.03,0.25,0.46,0.12,0.38,0.21,0.06,0.32,0.48,0.14,0.27,0.09,0.43,0.19,0.36,
    0.05,0.30,0.22,0.49,0.11,0.39,0.16,0.28,0.04,0.44,0.24,0.13,0.37,0.08,0.31,0.47,0.18,0.26,0.02,0.40,
    0.20,0.35,0.10,0.45,0.15,0.28,0.06,0.42,0.23,0.33,0.12,0.50,0.17,0.30,0.07,0.38,0.25,0.14,0.46,0.21,
    0.35,0.09,0.27,0.16,0.43,0.05,0.32,0.19,0.41,0.11,0.29,0.48,0.13,0.37,0.22,0.04,0.34,0.18,0.44,0.26]]
];

const GC_TR = [
  [[0.8,-0.6,1.4,-1.2,0.3,1.9,-0.9,0.5,-1.6,1.1,-0.3,3.2,0.2,-1.4,0.9,-0.7,1.6,-0.2,2.1,-1.0,
    0.4,-1.8,1.2,-0.5,0.7,2.4,-1.3,0.1,1.5,-0.8,-2.2,0.6,1.8,-0.4,2.9,-1.1,0.3,1.0,-1.7,0.8,
    -0.6,2.6,-0.1,1.3,-2.9,0.5,-0.9,1.7,-0.3,0.9,-1.5,2.0,-0.7,0.4,-2.6,1.1,-0.2,1.6,-1.2,0.7,
    -2.7,0.2,1.4,-0.8,2.2,-1.9,0.6,-0.4,1.9,-1.0,0.3,2.5,-0.6,1.2,-1.4,0.8,-2.1,1.5,-0.5,2.9]],
  [[1.1,-0.4,0.7,-1.3,1.8,0.2,-0.8,1.3,-1.6,0.5,2.0,-0.6,0.9,-1.1,0.3,1.5,-0.2,-1.8,1.0,2.5,
    -0.7,0.4,1.6,-1.2,0.8,-0.3,1.9,-1.5,0.6,-0.9,1.2,-0.1,2.1,-1.4,0.5,-0.6,1.4,-2.0,0.9,0.1,
    -1.0,1.7,-0.5,0.7,2.2,-1.3,0.2,1.1,-0.8,1.8,-1.7,0.6,-0.2,1.3,-1.1,2.0,0.4,-0.7,1.5,-1.6,
    0.8,-0.3,1.9,-0.9,0.5,2.3,-1.4,0.1,1.2,-0.6,1.6,-1.9,0.7,-0.4,1.4,-1.2,2.1,0.3,-0.8,1.0]],
  [[0.15,0.05,0.21,0.10,0.18,0.02,0.13,0.24,0.08,0.16,0.11,0.20,0.04,0.14,0.19,0.07,0.12,0.22,0.09,0.17,
    0.03,0.15,0.10,0.25,0.06,0.13,0.18,0.08,0.21,0.11,0.16,0.01,0.14,0.19,0.09,0.12,0.23,0.07,0.15,0.10]],
  [[0.05,-0.06,0.10,0.00,0.07,-0.03,0.12,0.02,-0.08,0.06,0.01,0.11,-0.04,0.04,0.09,-0.02,0.03,0.13,-0.05,0.08,
    0.00,0.06,-0.07,0.10,0.02,-0.01,0.08,0.04,-0.05,0.11,0.03,-0.02,0.07,0.01,0.12,-0.04,0.05,0.00,0.09,-0.03]],
  [[-0.22,-0.35,-0.18,-0.30,-0.25,-0.40,-0.20,-0.28,-0.15,-0.33,-0.26,-0.21,-0.38,-0.24,-0.29,-0.17,-0.31,-0.23,-0.36,-0.27,
    -0.19,-0.32,-0.25,-0.14,-0.29,-0.37,-0.22,-0.27,-0.34,-0.20,-0.26,-0.31,-0.18,-0.28,-0.39,-0.24,-0.21,-0.30,-0.26,-0.33]],
  [[-0.5,1.3,-1.1,0.6,1.7,-0.8,0.2,-1.9,1.0,-0.3,1.5,-1.4,0.4,1.9,-0.6,-2.1,0.8,1.2,-1.0,-2.5,
    0.5,1.6,-0.4,0.9,-1.5,1.1,0.1,-0.9,1.8,-0.2,0.7,-1.3,1.4,-0.7,0.3,2.0,-1.1,0.6,-1.8,1.2,
    -0.4,0.9,-1.6,1.5,0.2,-0.8,1.7,-1.2,0.4,2.1,-0.5,1.0,-1.9,0.6,1.3,-0.3,-1.4,0.8,2.2,-0.9,
    0.3,1.6,-1.2,0.5,-2.0,1.1,-0.6,1.8,-0.1,0.9,-1.5,1.4,0.2,-0.8,2.2,-1.3,0.7,1.9,-0.5,-1.1]],
  [[-2.9,2.4,-0.6,1.1,-1.4,0.5,1.7,-0.9,0.2,-1.7,1.3,-0.3,0.8,-1.2,2.0,-0.5,0.4,1.5,-2.0,0.9,
    -0.7,1.2,-1.5,-2.9,0.6,-0.2,1.8,-1.0,0.3,1.4,-0.8,2.1,-0.4,0.7,-2.6,1.0,-0.1,1.6,-1.3,0.5,
    1.9,-0.6,0.2,-1.8,1.3,-0.3,0.8,2.3,-1.1,0.4,-2.3,1.1,-0.5,1.7,-0.9,0.6,-1.6,1.4,-0.2,2.0,
    -1.2,0.3,1.2,-0.7,-2.4,0.9,1.6,-1.0,0.5,1.3,2.1,-0.4,2.85,-1.5,0.8,-0.3,1.5,-2.0,0.6,1.1]],
  [[0.08,-0.03,0.12,0.02,0.06,-0.05,0.10,0.04,-0.01,0.13,0.03,0.07,-0.04,0.09,0.01,0.11,-0.02,0.05,0.14,0.00,
    0.06,-0.06,0.08,0.03,0.12,-0.01,0.04,0.10,-0.03,0.07,0.02,0.15,-0.04,0.05,0.09,0.00,0.11,-0.02,0.06,0.03]],
  [[-0.05,-0.16,-0.08,-0.13,-0.02,-0.11,-0.19,-0.07,-0.12,-0.04,-0.15,-0.09,-0.01,-0.14,-0.10,-0.17,-0.06,-0.12,-0.03,-0.10,
    -0.18,-0.08,-0.13,-0.05,-0.11,-0.20,-0.07,-0.14,-0.09,-0.02,-0.12,-0.16,-0.06,-0.11,-0.08,-0.15,-0.04,-0.13,-0.09,-0.17]],
  [[1.5,-1.1,0.4,1.9,-0.7,0.9,-1.8,1.3,0.1,-0.5,2.0,-1.3,0.6,1.6,-0.9,0.3,-1.6,1.2,0.8,-0.4,
    2.1,-1.0,0.5,-1.9,1.4,0.2,-0.8,1.7,-1.4,0.7,-0.2,2.2,-1.1,0.9,-0.6,1.5,-2.0,0.4,1.1,-0.9,
    2.3,-0.3,0.8,-1.5,1.6,0.1,-1.2,1.9,-0.5,0.6,-1.7,1.3,0.3,-0.8,2.0,-1.3,0.7,-2.1,1.4,-0.4,
    0.9,-1.6,1.8,0.2,-0.7,1.5,-1.9,0.5,1.2,-0.6,2.1,-1.0,0.4,1.7,-1.4,0.8,-0.3,1.6,-1.8,0.9]],
  [[0.04,-0.07,0.09,-0.02,0.06,0.12,-0.04,0.03,-0.09,0.07,0.01,-0.05,0.10,-0.01,0.05,-0.08,0.08,0.02,-0.03,0.11,
    -0.06,0.04,0.00,0.09,-0.04,0.06,-0.10,0.03,0.07,-0.02,0.10,-0.06,0.05,0.01,-0.08,0.08,-0.01,0.04,-0.05,0.06]],
  [[-0.03,-0.12,-0.06,-0.01,-0.10,-0.15,-0.04,-0.09,0.00,-0.07,-0.13,-0.05,-0.02,-0.11,-0.08,-0.16,-0.03,-0.09,-0.06,0.01,
    -0.12,-0.07,-0.04,-0.14,-0.02,-0.10,-0.05,-0.08,-0.13,-0.03,-0.06,-0.11,0.00,-0.09,-0.14,-0.04,-0.07,-0.12,-0.05,-0.08]]
];
const GC_MID = [
  [[-0.9,1.2,0.1,-1.5,0.8,-0.3,1.7,-1.1,0.5,-2.0,1.0,-0.6,0.3,1.9,-1.3,0.7,-0.2,1.4,-1.8,0.2,
    1.1,-0.8,2.0,-0.4,0.6,-1.6,1.3,-0.1,0.9,-1.2,1.6,-0.7,0.4,-2.1,1.0,-0.5,1.8,-1.0,0.1,1.5,
    -1.4,0.5,-0.3,2.2,-0.9,0.8,-1.7,1.2,0.0,-1.1,1.7,-0.6,0.9,-1.9,0.3,1.4,-0.8,0.6,-1.5,1.9,
    -0.4,1.1,-1.2,0.2,1.6,-0.7,-2.0,0.8,-0.2,1.3,-1.6,0.5,1.8,-1.0,0.4,-0.3,1.2,-1.3,0.7,-0.6]],
  [[0.4,-1.2,1.6,-0.5,0.9,-1.8,1.1,0.2,-0.9,1.7,-0.3,0.6,-1.4,1.3,-0.7,2.0,-0.2,0.8,-1.6,1.4,
    0.1,-1.0,1.8,-0.6,0.5,-1.3,1.2,-0.4,2.1,-0.8,0.3,-1.7,1.0,-0.1,1.5,-1.1,0.7,-0.5,1.9,-1.4,
    0.6,-0.2,1.3,-1.9,0.9,-0.7,1.6,0.0,-1.2,1.1,-0.4,1.8,-1.5,0.4,-0.9,1.4,-0.3,2.2,-1.0,0.5,
    -1.6,1.2,-0.1,0.8,-1.3,1.7,-0.6,0.3,-2.0,1.0,-0.4,1.5,-1.1,0.6,-0.8,1.9,-0.2,0.9,-1.4,0.4]],
  [], [], [],
  [[0.9,-1.4,0.3,1.6,-0.7,1.1,-1.9,0.5,-0.2,1.8,-1.1,0.7,-0.5,1.3,-1.6,0.2,1.5,-0.9,0.6,-1.3,
    1.9,-0.4,1.0,-1.7,0.4,1.2,-0.8,-0.1,1.7,-1.2,0.8,-2.0,1.4,-0.6,0.3,-1.4,1.6,-0.3,0.9,-1.0,
    1.1,-1.8,0.5,-0.7,1.9,-0.2,0.7,-1.5,1.3,-0.4,0.2,-1.1,1.8,-0.8,0.6,-1.6,1.0,-0.5,1.5,-1.3,
    0.4,-0.9,2.0,-0.3,1.2,-1.7,0.8,-0.6,1.4,-1.2,0.1,-2.1,1.1,-0.4,0.7,-1.5,1.7,-0.7,0.3,-1.0]],
  [[-1.1,0.6,1.8,-0.4,0.2,-1.6,1.2,-0.8,0.9,-0.2,1.5,-1.3,0.4,-1.9,1.0,-0.6,1.7,0.1,-1.2,0.7,
    -0.3,1.4,-1.7,0.5,-0.9,1.9,-0.4,0.8,-1.5,1.1,-0.1,-1.0,1.6,-0.7,0.3,-1.8,1.3,-0.5,0.6,-1.4,
    0.9,-0.2,1.8,-1.1,0.4,-0.8,1.5,-1.6,0.2,1.0,-0.6,1.7,-1.3,0.5,-0.3,1.2,-2.0,0.8,-0.9,1.4,
    -0.5,0.3,-1.5,1.9,-0.7,0.6,-1.1,1.3,-0.2,0.9,-1.8,0.5,1.6,-0.9,0.2,-1.3,1.1,-0.4,0.7,-1.6]],
  [], [],
  [[-0.6,1.2,-1.4,0.3,1.7,-0.9,0.6,-1.7,1.0,-0.2,1.5,-1.1,0.4,-0.6,1.9,-1.5,0.8,-0.3,1.3,-1.8,
    0.5,1.1,-0.7,1.6,-1.2,0.2,-0.5,1.8,-1.0,0.9,-1.6,0.4,1.4,-0.8,0.1,-1.3,1.7,-0.4,0.7,-2.0,
    1.2,-0.6,1.5,-0.9,0.3,1.9,-1.4,0.6,-0.2,1.1,-1.7,0.8,-0.5,1.6,-1.1,0.4,1.0,-1.5,0.2,1.8,
    -0.9,0.5,-1.3,1.4,-0.3,0.8,-1.9,1.2,-0.7,0.3,1.7,-1.2,0.6,-0.4,1.5,-1.6,0.9,-0.1,1.3,-1.0]],
  [], []
];

// cyan, yellow, light green, lavender, light brown, blue, orange, green, magenta, brown
const GF_TR = [
  [[0.002,-0.020,-0.006,-0.031,0.009,-0.015,-0.025,0.005,-0.010,-0.036,-0.002,0.014,-0.018,-0.028,0.000,-0.012,0.011,-0.033,-0.004,-0.022,
    0.007,-0.016,-0.039,-0.008,0.016,-0.024,-0.001,-0.013,-0.030,0.004,-0.019,-0.007,0.012,-0.027,-0.011,-0.042,0.001,-0.017,-0.005,0.010,
    -0.023,-0.009,-0.034,0.003,-0.014,0.018,-0.021,-0.003,-0.029,-0.010,0.008,-0.018,-0.037,-0.006,0.013,-0.025,-0.012,0.002,-0.031,-0.015,
    0.006,-0.022,-0.008,-0.040,0.000,-0.016,0.011,-0.027,-0.004,-0.019,0.015,-0.011,-0.033,-0.002,-0.024,0.009,-0.013,-0.035,0.003,-0.020]],
  [[-0.060,-0.037,-0.071,-0.049,-0.084,-0.055,-0.032,-0.066,-0.045,-0.078,-0.052,-0.040,-0.092,-0.058,-0.035,-0.069,-0.047,-0.081,-0.043,-0.063,
    -0.054,-0.029,-0.074,-0.050,-0.087,-0.041,-0.061,-0.046,-0.076,-0.034,-0.057,-0.068,-0.044,-0.090,-0.052,-0.038,-0.072,-0.048,-0.064,-0.031,
    -0.059,-0.083,-0.042,-0.067,-0.053,-0.036,-0.075,-0.049,-0.094,-0.045,-0.062,-0.039,-0.070,-0.056,-0.033,-0.079,-0.047,-0.065,-0.041,-0.085,
    -0.051,-0.104,-0.058,-0.037,-0.073,-0.046,-0.063,-0.030,-0.069,-0.054,-0.088,-0.043,-0.060,-0.048,-0.076,-0.035,-0.066,-0.052,-0.082,-0.044]],
  [[-0.071,-0.050,-0.083,-0.062,-0.044,-0.077,-0.056,-0.092,-0.065,-0.047,-0.080,-0.059,-0.038,-0.074,-0.053,-0.088,-0.061,-0.046,-0.079,-0.068,
    -0.052,-0.085,-0.057,-0.041,-0.073,-0.064,-0.095,-0.055,-0.070,-0.048,-0.082,-0.060,-0.043,-0.076,-0.066,-0.090,-0.051,-0.072,-0.058,-0.086,
    -0.045,-0.069,-0.081,-0.054,-0.063,-0.097,-0.049,-0.075,-0.060,-0.040,-0.078,-0.067,-0.087,-0.053,-0.071,-0.104,-0.058,-0.046,-0.084,-0.062,
    -0.073,-0.050,-0.089,-0.065,-0.042,-0.080,-0.057,-0.093,-0.068,-0.054,-0.077,-0.061,-0.099,-0.049,-0.072,-0.064,-0.086,-0.055,-0.070,-0.081]],
  [[-0.020,-0.045,-0.031,-0.008,-0.038,-0.055,-0.025,-0.041,-0.013,-0.034,-0.050,-0.022,-0.037,-0.005,-0.043,-0.028,-0.060,-0.018,-0.035,-0.047,
    -0.026,-0.010,-0.040,-0.053,-0.030,-0.016,-0.044,-0.033,-0.062,-0.021,-0.036,-0.049,-0.012,-0.039,-0.027,-0.057,-0.024,-0.042,-0.015,-0.035,
    -0.051,-0.029,-0.007,-0.046,-0.032,-0.058,-0.019,-0.038,-0.026,-0.048,-0.011,-0.034,-0.054,-0.023,-0.041,-0.030,-0.066,-0.017,-0.037,-0.044,
    -0.028,-0.052,-0.014,-0.039,-0.025,-0.045,-0.033,-0.009,-0.049,-0.031,-0.056,-0.020,-0.040,-0.027,-0.047,-0.016,-0.036,-0.059,-0.024,-0.042]],
  [[-0.030,-0.052,-0.021,-0.044,-0.063,-0.035,-0.014,-0.048,-0.027,-0.058,-0.039,-0.019,-0.055,-0.033,-0.069,-0.042,-0.024,-0.050,-0.011,-0.037,
    -0.061,-0.029,-0.046,-0.017,-0.053,-0.036,-0.073,-0.041,-0.022,-0.049,-0.032,-0.064,-0.015,-0.045,-0.028,-0.057,-0.038,-0.020,-0.054,-0.034,
    -0.066,-0.043,-0.025,-0.051,-0.012,-0.040,-0.059,-0.031,-0.047,-0.018,-0.062,-0.036,-0.026,-0.056,-0.042,-0.070,-0.023,-0.045,-0.033,-0.016,
    -0.052,-0.039,-0.060,-0.027,-0.047,-0.013,-0.035,-0.058,-0.030,-0.049,-0.021,-0.065,-0.041,-0.028,-0.054,-0.037,-0.019,-0.050,-0.032,-0.061]],
  [[0.072,0.048,0.085,0.061,0.039,0.066,0.090,0.053,0.075,0.044,0.063,0.098,0.057,0.070,0.041,0.082,0.059,0.047,0.088,0.064,
    0.052,0.076,0.037,0.069,0.093,0.056,0.079,0.045,0.067,0.100,0.060,0.050,0.084,0.043,0.071,0.062,0.095,0.054,0.077,0.040,
    0.068,0.087,0.049,0.073,0.058,0.091,0.046,0.065,0.080,0.038,0.074,0.055,0.089,0.061,0.042,0.078,0.066,0.051,0.096,0.059,
    0.070,0.044,0.083,0.117,0.063,0.048,0.086,0.057,0.072,0.040,0.081,0.064,0.053,0.092,0.060,0.046,0.076,0.069,0.099,0.058]],
  [[0.021,0.044,0.030,0.008,0.052,0.026,0.039,0.015,0.060,0.033,0.019,0.047,0.028,0.011,0.055,0.036,0.023,0.042,0.004,0.031,
    0.049,0.017,0.038,0.062,0.025,0.013,0.045,0.032,0.056,0.020,0.040,0.027,0.051,0.009,0.035,0.024,0.058,0.016,0.043,0.030,
    0.053,0.022,0.037,0.012,0.048,0.029,0.065,0.018,0.034,0.046,0.007,0.041,0.026,0.054,0.014,0.039,0.023,0.050,0.031,0.017,
    0.044,0.028,0.059,0.020,0.036,0.010,0.047,0.033,0.024,0.057,0.015,0.042,0.029,0.052,0.018,0.037,0.006,0.045,0.027,0.050]],
  [[0.045,0.018,0.037,0.052,0.024,0.041,0.008,0.033,0.059,0.027,0.046,0.014,0.038,0.063,0.022,0.035,0.049,0.011,0.030,0.055,
    0.026,0.042,0.017,0.039,0.061,0.029,0.012,0.047,0.034,0.021,0.057,0.036,0.005,0.043,0.028,0.051,0.019,0.040,0.066,0.025,
    0.032,0.048,0.015,0.044,0.031,0.058,0.023,0.037,0.009,0.050,0.027,0.041,0.064,0.020,0.035,0.053,0.016,0.039,0.028,0.045,
    0.012,0.056,0.033,0.024,0.049,0.038,0.018,0.060,0.030,0.043,0.021,0.052,0.036,0.010,0.046,0.029,0.062,0.034,0.019,0.040]],
  [[0.020,-0.004,0.031,0.008,-0.012,0.024,0.003,0.038,0.012,-0.008,0.027,0.001,0.016,0.042,-0.005,0.022,0.006,-0.015,0.033,0.010,
    0.025,-0.002,0.018,0.036,0.004,-0.010,0.029,0.013,0.000,0.040,0.015,-0.007,0.023,0.007,0.034,-0.013,0.019,0.002,0.028,0.011,
    -0.006,0.037,0.014,0.005,0.026,-0.011,0.021,0.009,0.044,-0.003,0.017,0.030,0.001,0.024,-0.009,0.035,0.012,0.006,0.027,-0.014,
    0.019,0.003,0.032,0.010,-0.005,0.039,0.015,0.000,0.025,0.008,-0.012,0.030,0.017,0.004,0.036,-0.002,0.021,0.011,0.028,0.006]],
  [[-0.012,0.010,-0.025,0.002,-0.018,0.016,-0.006,-0.031,0.007,-0.014,0.021,-0.002,-0.022,0.012,-0.009,-0.036,0.004,-0.016,0.018,-0.004,
    -0.027,0.009,-0.011,0.024,-0.020,0.001,-0.033,0.013,-0.007,-0.019,0.019,-0.003,-0.040,0.006,-0.013,0.015,-0.024,0.000,-0.010,0.022,
    -0.017,0.005,-0.029,0.011,-0.008,-0.021,0.017,-0.001,-0.034,0.008,-0.015,0.020,-0.005,-0.026,0.003,-0.012,0.014,-0.038,0.007,-0.018,
    0.010,-0.023,0.002,-0.009,0.025,-0.016,-0.030,0.006,-0.004,0.016,-0.020,0.000,-0.044,0.012,-0.011,0.019,-0.025,0.004,-0.007,0.013]]
];
const GF_MID = [
  [[-0.018,0.004,-0.027,-0.009,0.012,-0.021,-0.003,-0.032,0.008,-0.014,-0.025,0.001,-0.011,0.015,-0.019,-0.006,-0.030,0.006,-0.016,-0.002,
    -0.024,0.010,-0.012,-0.035,0.003,-0.008,-0.020,0.013,-0.015,-0.028,-0.004,0.007,-0.022,-0.010,0.017,-0.017,-0.031,0.000,-0.013,-0.026,
    0.005,-0.007,-0.019,0.011,-0.023,-0.001,-0.029,-0.012,0.009,-0.016,-0.005,-0.033,0.002,-0.021,-0.009,0.014,-0.018,-0.027,-0.003,0.006,
    -0.014,-0.024,0.008,-0.010,-0.030,0.001,-0.017,-0.006,0.012,-0.022,-0.011,-0.028,0.004,-0.015,-0.002,-0.025,0.010,-0.019,-0.008,-0.032]],
  [[-0.044,-0.067,-0.038,-0.058,-0.029,-0.073,-0.050,-0.062,-0.035,-0.080,-0.047,-0.055,-0.031,-0.070,-0.042,-0.064,-0.053,-0.036,-0.077,-0.045,
    -0.060,-0.033,-0.068,-0.051,-0.040,-0.083,-0.048,-0.057,-0.030,-0.072,-0.046,-0.061,-0.037,-0.066,-0.054,-0.028,-0.075,-0.043,-0.059,-0.049,
    -0.034,-0.071,-0.052,-0.065,-0.039,-0.081,-0.044,-0.056,-0.032,-0.069,-0.048,-0.061,-0.036,-0.074,-0.051,-0.042,-0.086,-0.047,-0.058,-0.035,
    -0.063,-0.045,-0.070,-0.038,-0.055,-0.029,-0.076,-0.050,-0.062,-0.041,-0.067,-0.053,-0.033,-0.079,-0.046,-0.057,-0.039,-0.072,-0.049,-0.060]],
  [[-0.064,-0.081,-0.052,-0.073,-0.045,-0.087,-0.060,-0.069,-0.049,-0.078,-0.057,-0.094,-0.066,-0.043,-0.075,-0.055,-0.084,-0.062,-0.047,-0.071,
    -0.090,-0.058,-0.076,-0.051,-0.067,-0.041,-0.080,-0.063,-0.054,-0.088,-0.069,-0.046,-0.074,-0.059,-0.098,-0.065,-0.050,-0.079,-0.056,-0.070,
    -0.044,-0.085,-0.061,-0.072,-0.052,-0.093,-0.066,-0.048,-0.077,-0.058,-0.083,-0.063,-0.045,-0.074,-0.057,-0.089,-0.068,-0.051,-0.080,-0.060,
    -0.071,-0.046,-0.086,-0.062,-0.053,-0.078,-0.066,-0.095,-0.055,-0.073,-0.048,-0.082,-0.064,-0.059,-0.091,-0.067,-0.052,-0.076,-0.061,-0.087]],
  [[-0.040,-0.019,-0.048,-0.027,-0.012,-0.036,-0.053,-0.023,-0.043,-0.030,-0.008,-0.046,-0.034,-0.016,-0.056,-0.025,-0.039,-0.021,-0.050,-0.031,
    -0.013,-0.044,-0.028,-0.059,-0.035,-0.018,-0.041,-0.024,-0.052,-0.010,-0.037,-0.029,-0.047,-0.020,-0.033,-0.055,-0.015,-0.042,-0.026,-0.038,
    -0.022,-0.049,-0.031,-0.011,-0.045,-0.036,-0.019,-0.054,-0.027,-0.040,-0.014,-0.033,-0.047,-0.024,-0.060,-0.030,-0.017,-0.043,-0.035,-0.021,
    -0.051,-0.026,-0.038,-0.012,-0.046,-0.032,-0.057,-0.023,-0.041,-0.016,-0.034,-0.048,-0.028,-0.009,-0.044,-0.037,-0.020,-0.053,-0.030,-0.039]],
  [[-0.047,-0.026,-0.057,-0.035,-0.018,-0.051,-0.040,-0.066,-0.031,-0.044,-0.022,-0.059,-0.037,-0.014,-0.053,-0.029,-0.045,-0.062,-0.033,-0.049,
    -0.020,-0.043,-0.055,-0.028,-0.068,-0.038,-0.016,-0.050,-0.034,-0.058,-0.025,-0.046,-0.041,-0.064,-0.019,-0.052,-0.036,-0.061,-0.030,-0.048,
    -0.023,-0.056,-0.039,-0.071,-0.032,-0.045,-0.017,-0.054,-0.042,-0.027,-0.063,-0.035,-0.049,-0.021,-0.058,-0.038,-0.044,-0.013,-0.052,-0.030,
    -0.060,-0.036,-0.024,-0.055,-0.041,-0.067,-0.033,-0.047,-0.019,-0.053,-0.039,-0.058,-0.026,-0.045,-0.035,-0.064,-0.028,-0.050,-0.042,-0.022]],
  [[0.061,0.083,0.050,0.074,0.045,0.068,0.091,0.056,0.079,0.047,0.065,0.086,0.053,0.076,0.040,0.071,0.094,0.059,0.082,0.049,
    0.067,0.088,0.055,0.073,0.043,0.078,0.062,0.097,0.052,0.070,0.085,0.046,0.066,0.081,0.058,0.090,0.051,0.075,0.063,0.044,
    0.080,0.057,0.092,0.064,0.048,0.077,0.069,0.101,0.054,0.072,0.060,0.087,0.045,0.074,0.066,0.093,0.056,0.079,0.050,0.084,
    0.062,0.075,0.041,0.089,0.067,0.053,0.083,0.070,0.058,0.096,0.049,0.078,0.064,0.088,0.055,0.072,0.047,0.085,0.066,0.091]],
  [[0.037,0.012,0.049,0.025,0.041,0.017,0.056,0.031,0.006,0.044,0.023,0.058,0.034,0.014,0.047,0.027,0.063,0.020,0.039,0.009,
    0.052,0.029,0.043,0.016,0.055,0.032,0.024,0.048,0.011,0.038,0.060,0.026,0.045,0.018,0.033,0.053,0.008,0.040,0.028,0.050,
    0.015,0.036,0.061,0.022,0.046,0.031,0.005,0.042,0.026,0.057,0.019,0.035,0.049,0.013,0.044,0.030,0.064,0.024,0.039,0.010,
    0.051,0.033,0.020,0.046,0.028,0.059,0.015,0.041,0.035,0.007,0.048,0.025,0.054,0.032,0.017,0.043,0.029,0.061,0.022,0.038]],
  [[0.024,0.050,0.031,0.015,0.043,0.027,0.058,0.036,0.010,0.046,0.022,0.039,0.055,0.018,0.033,0.061,0.026,0.044,0.013,0.037,
    0.052,0.020,0.041,0.029,0.064,0.034,0.016,0.048,0.025,0.040,0.008,0.054,0.032,0.045,0.019,0.038,0.060,0.027,0.047,0.014,
    0.042,0.030,0.057,0.021,0.049,0.035,0.011,0.044,0.028,0.062,0.023,0.038,0.053,0.017,0.046,0.031,0.006,0.040,0.056,0.025,
    0.047,0.033,0.019,0.051,0.036,0.013,0.043,0.029,0.059,0.022,0.039,0.048,0.015,0.034,0.053,0.026,0.042,0.010,0.045,0.031]],
  [[0.004,0.026,-0.009,0.017,0.035,0.001,0.021,-0.006,0.030,0.011,-0.013,0.024,0.007,0.039,-0.002,0.019,0.033,0.005,-0.010,0.028,
    0.014,-0.004,0.037,0.009,0.022,-0.012,0.031,0.003,0.016,0.041,-0.007,0.025,0.010,-0.001,0.034,0.018,-0.011,0.029,0.006,0.020,
    0.038,-0.005,0.013,0.027,0.002,-0.014,0.032,0.015,0.008,0.036,-0.003,0.023,0.011,-0.008,0.030,0.017,0.043,0.004,0.021,-0.006,
    0.026,0.012,0.034,-0.002,0.019,0.007,-0.012,0.031,0.014,0.024,0.001,0.037,0.009,-0.007,0.028,0.016,0.040,0.005,0.022,0.013]],
  [[-0.002,-0.021,0.011,-0.014,0.020,-0.008,-0.028,0.005,-0.017,0.014,-0.004,-0.032,0.009,-0.011,0.023,-0.019,0.002,-0.026,0.016,-0.007,
    -0.015,0.012,-0.035,-0.001,0.018,-0.022,0.006,-0.010,0.021,-0.029,-0.005,0.010,-0.018,0.003,-0.038,0.015,-0.009,-0.024,0.008,-0.013,
    0.019,-0.031,0.001,-0.016,0.013,-0.006,-0.027,0.022,-0.011,0.004,-0.020,0.017,-0.033,-0.003,0.011,-0.015,0.024,-0.008,-0.025,0.007,
    -0.018,0.014,-0.002,-0.030,0.009,-0.012,0.020,-0.021,0.003,-0.009,-0.036,0.012,-0.005,0.018,-0.016,0.001,-0.028,0.015,-0.010,0.006]]
];

/* ---------- layout / style ---------- */
const PAL = ["#2a2eec","#fa7c17","#328c06","#c10c90","#933708","#65e5f3","#e6e135","#1ccd6a","#bd8ad5","#b16b57"];
const TXT = "#222222", FONT = "DejaVu Sans", PANEL_BG = "#eeeeee";
const TOPS = [178,605,1032,1459,1896,2323,2750], H = 299;
const LX = 20, LW = 1076, RX = 1326, RW = 1077;
const YGAP = [85,132,85,73,85,116,116];
const KDE_LW = 4.5, TR_LW = 4.5, LAST_DRAW = 799;

const ROWS = [
  {name:"intercept_contribution", range:[0.0568,0.2804], kt:IC_TICKS, kd:3, tt:IC_YT, td:1, cols:[0], kx:IC_KX, ky:IC_KY, tr:IC_TR, mid:IC_MID},
  {name:"y_sigma", range:[0.0839,0.1449], kt:YS_TICKS, kd:2, tt:YS_YT, td:3, cols:[1], kx:YS_KX, ky:YS_KY, tr:YS_TR, mid:YS_MID},
  {name:"saturation_beta", range:[-0.0506,1.059], kt:SB_TICKS, kd:1, tt:SB_YT, td:1, cols:[2,3,4,5,6,7,8], kx:SB_KX, ky:SB_KY, tr:SB_TR, mid:SB_MID},
  {name:"saturation_lam", range:[-0.767,18.19], kt:SL_TICKS, kd:1, tt:SL_YT, td:0, cols:[9,0,1,2,3,4,5], kx:SL_KX, ky:SL_KY, tr:SL_TR, mid:SL_MID},
  {name:"adstock_alpha", range:[-0.048,1.021], kt:AA_TICKS, kd:1, tt:AA_YT, td:1, cols:[6,7,8,9,0,1,2], kx:AA_KX, ky:AA_KY, tr:AA_TR, mid:AA_MID},
  {name:"gamma_control", range:[-3.338,3.59], kt:GC_TICKS, kd:0, tt:GC_YT, td:1, cols:[3,4,5,6,7,8,9,0,1,2,3,4], kx:GC_KX, ky:GC_KY, tr:GC_TR, mid:GC_MID},
  {name:"gamma_fourier", range:[-0.1242,0.1272], kt:GF_TICKS, kd:2, tt:GF_YT, td:1, cols:[5,6,7,8,9,0,1,2,3,4], kx:GF_KX, ky:GF_KY, tr:GF_TR, mid:GF_MID}
];

// matplotlib line styles per chain: solid, dashed, dotted, dash-dot (scaled by width)
const dash = (lw,ch) => ["solid",[3.7*lw,1.6*lw],[lw,1.65*lw],[6.4*lw,1.6*lw,lw,1.6*lw]][ch%4];
const fmt = (v,d) => v.toFixed(d).replace("-","\u2212");
const txt = (size,extra) => Object.assign({fontSize:size, color:TXT, fontFamily:FONT}, extra||{});
const white = {show:true, lineStyle:{color:"#ffffff", width:2.5}};

const grid=[], xAxis=[], yAxis=[], series=[];
ROWS.forEach((r,i)=>{
  const top = TOPS[i], L = 2*i, R = 2*i+1;
  grid.push({left:LX, top, width:LW, height:H, show:true, backgroundColor:PANEL_BG, borderWidth:0});
  grid.push({left:RX, top, width:RW, height:H, show:true, backgroundColor:PANEL_BG, borderWidth:0});

  // left: KDE
  xAxis.push({gridIndex:L, type:"value", min:r.range[0], max:r.range[1],
    name:r.name, nameLocation:"middle", nameGap:70, nameTextStyle:txt(41),
    axisLine:{show:false},
    axisTick:{show:true, customValues:r.kt, length:7, lineStyle:{color:"#3a3a3a", width:2}},
    axisLabel:txt(37,{customValues:r.kt, margin:18, formatter:v=>fmt(v,r.kd)}),
    splitLine:white});
  yAxis.push({gridIndex:L, type:"value", min:-0.05, max:1.05, show:false});

  // right: trace
  xAxis.push({gridIndex:R, type:"value", min:-40, max:839,
    name:"Draw", nameLocation:"middle", nameGap:58, nameTextStyle:txt(41),
    axisLine:{show:false}, axisTick:{show:false, customValues:DRAW_TICKS},
    axisLabel:txt(37,{customValues:DRAW_TICKS, margin:9, formatter:v=>fmt(v,0)}),
    splitLine:white});
  yAxis.push({gridIndex:R, type:"value", min:r.range[0], max:r.range[1],
    name:r.name, nameLocation:"middle", nameGap:YGAP[i], nameTextStyle:txt(41),
    axisLine:{show:false}, axisTick:{show:false, customValues:r.tt},
    axisLabel:txt(37,{customValues:r.tt, margin:10, formatter:v=>fmt(v,r.td)}),
    splitLine:white});

  r.kx.forEach((gx,v)=> r.ky[v].forEach((ys,ch)=> series.push({
    type:"line", xAxisIndex:L, yAxisIndex:L, data:ys.map((y,k)=>[gx[k],y]),
    smooth:0.5, symbol:"none", silent:true, animation:false,
    lineStyle:{color:PAL[r.cols[v]], width:KDE_LW, type:dash(KDE_LW,ch), cap:"butt"}
  })));
  // thinned draws: value k at draw k*step, the matching MID value halfway to the next one
  r.tr.forEach((chains,v)=> chains.forEach((ys,ch)=>{
    const mid = (r.mid[v]||[])[ch];
    const step = LAST_DRAW/(mid ? ys.length-0.5 : ys.length-1);
    const data = [];
    ys.forEach((y,k)=>{
      data.push([k*step, y]);
      if(mid && mid[k]!==undefined) data.push([(k+0.5)*step, mid[k]]);
    });
    series.push({
      type:"line", xAxisIndex:R, yAxisIndex:R, data,
      symbol:"none", silent:true, animation:false, sampling:null,
      lineStyle:{color:PAL[r.cols[v]], width:TR_LW, type:dash(TR_LW,ch), cap:"butt", join:"round"}
    });
  }));
});

const chart = echarts.init(document.getElementById("chart"));
chart.setOption({
  animation:false,
  backgroundColor:"#ffffff",
  title:{text:"Model Trace", left:"center", top:12, textStyle:txt(50,{fontWeight:"bold"})},
  grid, xAxis, yAxis, series
});
</script>
</body>
</html>
